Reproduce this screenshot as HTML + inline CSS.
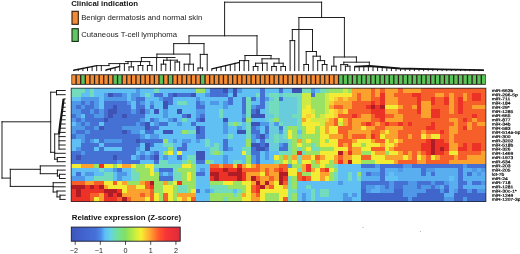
<!DOCTYPE html><html><head><meta charset="utf-8"><title>Heatmap</title><style>html,body{margin:0;padding:0;background:#fff}svg{display:block}text{font-family:"Liberation Sans",sans-serif}</style></head><body>
<svg width="520" height="254" viewBox="0 0 520 254">
<defs><linearGradient id="cb" x1="0" x2="1" y1="0" y2="0">
<stop offset="0" stop-color="#3f55b8"/>
<stop offset="0.1" stop-color="#4262cc"/>
<stop offset="0.22" stop-color="#4670d8"/>
<stop offset="0.27" stop-color="#4c8ae8"/>
<stop offset="0.31" stop-color="#5cc0fa"/>
<stop offset="0.36" stop-color="#66d4e0"/>
<stop offset="0.42" stop-color="#70e0a0"/>
<stop offset="0.5" stop-color="#84e060"/>
<stop offset="0.58" stop-color="#c4ee40"/>
<stop offset="0.64" stop-color="#f6f032"/>
<stop offset="0.72" stop-color="#ffa830"/>
<stop offset="0.8" stop-color="#ff5a2c"/>
<stop offset="0.87" stop-color="#f83436"/>
<stop offset="1" stop-color="#dc2c3c"/>
</linearGradient><filter id="bl" x="-2%" y="-2%" width="104%" height="104%"><feGaussianBlur stdDeviation="0.6"/></filter></defs>
<rect width="520" height="254" fill="#fff"/>
<text x="71.2" y="5.6" font-size="7.8" font-weight="bold" fill="#111">Clinical indication</text>
<rect x="72" y="11.3" width="6.3" height="13" fill="#f58a36" stroke="#2a1c10" stroke-width="1.1"/>
<text x="81.2" y="19.6" font-size="7.75" fill="#222">Benign dermatosis and normal skin</text>
<rect x="72" y="28.7" width="6.3" height="12.7" fill="#62c462" stroke="#142a14" stroke-width="1.1"/>
<text x="81.2" y="37.4" font-size="7.75" fill="#222">Cutaneous T-cell lymphoma</text>
<g>
<rect x="71.4" y="74.3" width="414.40" height="10.5" fill="#2a2018"/>
<rect x="72.15" y="75.2" width="3.30" height="8.7" fill="#f68d35"/>
<rect x="76.75" y="75.2" width="3.30" height="8.7" fill="#f68d35"/>
<rect x="81.36" y="75.2" width="3.30" height="8.7" fill="#58c45a"/>
<rect x="85.96" y="75.2" width="3.30" height="8.7" fill="#f68d35"/>
<rect x="90.57" y="75.2" width="3.30" height="8.7" fill="#f68d35"/>
<rect x="95.17" y="75.2" width="3.30" height="8.7" fill="#f68d35"/>
<rect x="99.78" y="75.2" width="3.30" height="8.7" fill="#f68d35"/>
<rect x="104.38" y="75.2" width="3.30" height="8.7" fill="#f68d35"/>
<rect x="108.99" y="75.2" width="3.30" height="8.7" fill="#f68d35"/>
<rect x="113.59" y="75.2" width="3.30" height="8.7" fill="#58c45a"/>
<rect x="118.19" y="75.2" width="3.30" height="8.7" fill="#58c45a"/>
<rect x="122.80" y="75.2" width="3.30" height="8.7" fill="#f68d35"/>
<rect x="127.40" y="75.2" width="3.30" height="8.7" fill="#f68d35"/>
<rect x="132.01" y="75.2" width="3.30" height="8.7" fill="#f68d35"/>
<rect x="136.61" y="75.2" width="3.30" height="8.7" fill="#f68d35"/>
<rect x="141.22" y="75.2" width="3.30" height="8.7" fill="#f68d35"/>
<rect x="145.82" y="75.2" width="3.30" height="8.7" fill="#f68d35"/>
<rect x="150.43" y="75.2" width="3.30" height="8.7" fill="#f68d35"/>
<rect x="155.03" y="75.2" width="3.30" height="8.7" fill="#f68d35"/>
<rect x="159.63" y="75.2" width="3.30" height="8.7" fill="#58c45a"/>
<rect x="164.24" y="75.2" width="3.30" height="8.7" fill="#f68d35"/>
<rect x="168.84" y="75.2" width="3.30" height="8.7" fill="#58c45a"/>
<rect x="173.45" y="75.2" width="3.30" height="8.7" fill="#f68d35"/>
<rect x="178.05" y="75.2" width="3.30" height="8.7" fill="#f68d35"/>
<rect x="182.66" y="75.2" width="3.30" height="8.7" fill="#f68d35"/>
<rect x="187.26" y="75.2" width="3.30" height="8.7" fill="#f68d35"/>
<rect x="191.87" y="75.2" width="3.30" height="8.7" fill="#f68d35"/>
<rect x="196.47" y="75.2" width="3.30" height="8.7" fill="#f68d35"/>
<rect x="201.07" y="75.2" width="3.30" height="8.7" fill="#58c45a"/>
<rect x="205.68" y="75.2" width="3.30" height="8.7" fill="#f68d35"/>
<rect x="210.28" y="75.2" width="3.30" height="8.7" fill="#f68d35"/>
<rect x="214.89" y="75.2" width="3.30" height="8.7" fill="#f68d35"/>
<rect x="219.49" y="75.2" width="3.30" height="8.7" fill="#f68d35"/>
<rect x="224.10" y="75.2" width="3.30" height="8.7" fill="#f68d35"/>
<rect x="228.70" y="75.2" width="3.30" height="8.7" fill="#f68d35"/>
<rect x="233.31" y="75.2" width="3.30" height="8.7" fill="#f68d35"/>
<rect x="237.91" y="75.2" width="3.30" height="8.7" fill="#f68d35"/>
<rect x="242.51" y="75.2" width="3.30" height="8.7" fill="#f68d35"/>
<rect x="247.12" y="75.2" width="3.30" height="8.7" fill="#f68d35"/>
<rect x="251.72" y="75.2" width="3.30" height="8.7" fill="#f68d35"/>
<rect x="256.33" y="75.2" width="3.30" height="8.7" fill="#f68d35"/>
<rect x="260.93" y="75.2" width="3.30" height="8.7" fill="#f68d35"/>
<rect x="265.54" y="75.2" width="3.30" height="8.7" fill="#f68d35"/>
<rect x="270.14" y="75.2" width="3.30" height="8.7" fill="#f68d35"/>
<rect x="274.75" y="75.2" width="3.30" height="8.7" fill="#f68d35"/>
<rect x="279.35" y="75.2" width="3.30" height="8.7" fill="#f68d35"/>
<rect x="283.95" y="75.2" width="3.30" height="8.7" fill="#f68d35"/>
<rect x="288.56" y="75.2" width="3.30" height="8.7" fill="#f68d35"/>
<rect x="293.16" y="75.2" width="3.30" height="8.7" fill="#f68d35"/>
<rect x="297.77" y="75.2" width="3.30" height="8.7" fill="#f68d35"/>
<rect x="302.37" y="75.2" width="3.30" height="8.7" fill="#f68d35"/>
<rect x="306.98" y="75.2" width="3.30" height="8.7" fill="#f68d35"/>
<rect x="311.58" y="75.2" width="3.30" height="8.7" fill="#f68d35"/>
<rect x="316.19" y="75.2" width="3.30" height="8.7" fill="#f68d35"/>
<rect x="320.79" y="75.2" width="3.30" height="8.7" fill="#f68d35"/>
<rect x="325.39" y="75.2" width="3.30" height="8.7" fill="#f68d35"/>
<rect x="330.00" y="75.2" width="3.30" height="8.7" fill="#f68d35"/>
<rect x="334.60" y="75.2" width="3.30" height="8.7" fill="#f68d35"/>
<rect x="339.21" y="75.2" width="3.30" height="8.7" fill="#58c45a"/>
<rect x="343.81" y="75.2" width="3.30" height="8.7" fill="#58c45a"/>
<rect x="348.42" y="75.2" width="3.30" height="8.7" fill="#58c45a"/>
<rect x="353.02" y="75.2" width="3.30" height="8.7" fill="#58c45a"/>
<rect x="357.63" y="75.2" width="3.30" height="8.7" fill="#58c45a"/>
<rect x="362.23" y="75.2" width="3.30" height="8.7" fill="#58c45a"/>
<rect x="366.83" y="75.2" width="3.30" height="8.7" fill="#58c45a"/>
<rect x="371.44" y="75.2" width="3.30" height="8.7" fill="#58c45a"/>
<rect x="376.04" y="75.2" width="3.30" height="8.7" fill="#58c45a"/>
<rect x="380.65" y="75.2" width="3.30" height="8.7" fill="#58c45a"/>
<rect x="385.25" y="75.2" width="3.30" height="8.7" fill="#58c45a"/>
<rect x="389.86" y="75.2" width="3.30" height="8.7" fill="#58c45a"/>
<rect x="394.46" y="75.2" width="3.30" height="8.7" fill="#58c45a"/>
<rect x="399.07" y="75.2" width="3.30" height="8.7" fill="#58c45a"/>
<rect x="403.67" y="75.2" width="3.30" height="8.7" fill="#58c45a"/>
<rect x="408.27" y="75.2" width="3.30" height="8.7" fill="#58c45a"/>
<rect x="412.88" y="75.2" width="3.30" height="8.7" fill="#58c45a"/>
<rect x="417.48" y="75.2" width="3.30" height="8.7" fill="#58c45a"/>
<rect x="422.09" y="75.2" width="3.30" height="8.7" fill="#58c45a"/>
<rect x="426.69" y="75.2" width="3.30" height="8.7" fill="#58c45a"/>
<rect x="431.30" y="75.2" width="3.30" height="8.7" fill="#58c45a"/>
<rect x="435.90" y="75.2" width="3.30" height="8.7" fill="#58c45a"/>
<rect x="440.51" y="75.2" width="3.30" height="8.7" fill="#58c45a"/>
<rect x="445.11" y="75.2" width="3.30" height="8.7" fill="#58c45a"/>
<rect x="449.71" y="75.2" width="3.30" height="8.7" fill="#58c45a"/>
<rect x="454.32" y="75.2" width="3.30" height="8.7" fill="#58c45a"/>
<rect x="458.92" y="75.2" width="3.30" height="8.7" fill="#58c45a"/>
<rect x="463.53" y="75.2" width="3.30" height="8.7" fill="#58c45a"/>
<rect x="468.13" y="75.2" width="3.30" height="8.7" fill="#58c45a"/>
<rect x="472.74" y="75.2" width="3.30" height="8.7" fill="#58c45a"/>
<rect x="477.34" y="75.2" width="3.30" height="8.7" fill="#58c45a"/>
<rect x="481.95" y="75.2" width="3.30" height="8.7" fill="#58c45a"/>
</g>
<g filter="url(#bl)">
<rect x="71" y="88" width="14" height="5" fill="#72dcbc"/>
<rect x="85" y="88" width="5" height="5" fill="#60c0f4"/>
<rect x="90" y="88" width="4" height="5" fill="#72dcbc"/>
<rect x="94" y="88" width="42" height="5" fill="#60c0f4"/>
<rect x="136" y="88" width="4" height="5" fill="#4f98e8"/>
<rect x="140" y="88" width="14" height="5" fill="#60c0f4"/>
<rect x="154" y="88" width="5" height="5" fill="#72dcbc"/>
<rect x="159" y="88" width="37" height="5" fill="#60c0f4"/>
<rect x="196" y="88" width="9" height="5" fill="#9ae264"/>
<rect x="205" y="88" width="5" height="5" fill="#60c0f4"/>
<rect x="210" y="88" width="13" height="5" fill="#4470d4"/>
<rect x="223" y="88" width="5" height="5" fill="#3d52b6"/>
<rect x="228" y="88" width="5" height="5" fill="#4f98e8"/>
<rect x="233" y="88" width="4" height="5" fill="#3d52b6"/>
<rect x="237" y="88" width="5" height="5" fill="#4f98e8"/>
<rect x="242" y="88" width="18" height="5" fill="#60c0f4"/>
<rect x="260" y="88" width="5" height="5" fill="#4470d4"/>
<rect x="265" y="88" width="14" height="5" fill="#60c0f4"/>
<rect x="279" y="88" width="4" height="5" fill="#4470d4"/>
<rect x="283" y="88" width="9" height="5" fill="#60c0f4"/>
<rect x="292" y="88" width="10" height="5" fill="#3d52b6"/>
<rect x="302" y="88" width="9" height="5" fill="#72dcbc"/>
<rect x="311" y="88" width="4" height="5" fill="#4f98e8"/>
<rect x="315" y="88" width="5" height="5" fill="#60c0f4"/>
<rect x="320" y="88" width="5" height="5" fill="#72dcbc"/>
<rect x="325" y="88" width="4" height="5" fill="#84de90"/>
<rect x="329" y="88" width="14" height="5" fill="#9ae264"/>
<rect x="343" y="88" width="5" height="5" fill="#cdea46"/>
<rect x="348" y="88" width="4" height="5" fill="#9ae264"/>
<rect x="352" y="88" width="19" height="5" fill="#fba22e"/>
<rect x="371" y="88" width="4" height="5" fill="#f75e2c"/>
<rect x="375" y="88" width="5" height="5" fill="#fba22e"/>
<rect x="380" y="88" width="5" height="5" fill="#f75e2c"/>
<rect x="385" y="88" width="13" height="5" fill="#fba22e"/>
<rect x="398" y="88" width="5" height="5" fill="#f75e2c"/>
<rect x="403" y="88" width="18" height="5" fill="#fba22e"/>
<rect x="421" y="88" width="65" height="5" fill="#f75e2c"/>
<rect x="71" y="93" width="10" height="4" fill="#72dcbc"/>
<rect x="81" y="93" width="9" height="4" fill="#60c0f4"/>
<rect x="90" y="93" width="4" height="4" fill="#72dcbc"/>
<rect x="94" y="93" width="10" height="4" fill="#60c0f4"/>
<rect x="104" y="93" width="4" height="4" fill="#4f98e8"/>
<rect x="108" y="93" width="5" height="4" fill="#3d52b6"/>
<rect x="113" y="93" width="9" height="4" fill="#4470d4"/>
<rect x="122" y="93" width="5" height="4" fill="#4f98e8"/>
<rect x="127" y="93" width="4" height="4" fill="#60c0f4"/>
<rect x="131" y="93" width="9" height="4" fill="#4f98e8"/>
<rect x="140" y="93" width="5" height="4" fill="#60c0f4"/>
<rect x="145" y="93" width="5" height="4" fill="#72dcbc"/>
<rect x="150" y="93" width="4" height="4" fill="#60c0f4"/>
<rect x="154" y="93" width="9" height="4" fill="#4470d4"/>
<rect x="163" y="93" width="5" height="4" fill="#60c0f4"/>
<rect x="168" y="93" width="5" height="4" fill="#4470d4"/>
<rect x="173" y="93" width="4" height="4" fill="#3d52b6"/>
<rect x="177" y="93" width="14" height="4" fill="#4470d4"/>
<rect x="191" y="93" width="5" height="4" fill="#3d52b6"/>
<rect x="196" y="93" width="9" height="4" fill="#60c0f4"/>
<rect x="205" y="93" width="5" height="4" fill="#4f98e8"/>
<rect x="210" y="93" width="18" height="4" fill="#4470d4"/>
<rect x="228" y="93" width="5" height="4" fill="#60c0f4"/>
<rect x="233" y="93" width="4" height="4" fill="#3d52b6"/>
<rect x="237" y="93" width="19" height="4" fill="#60c0f4"/>
<rect x="256" y="93" width="4" height="4" fill="#72dcbc"/>
<rect x="260" y="93" width="5" height="4" fill="#4470d4"/>
<rect x="265" y="93" width="4" height="4" fill="#68ccdc"/>
<rect x="269" y="93" width="10" height="4" fill="#72dcbc"/>
<rect x="279" y="93" width="4" height="4" fill="#68ccdc"/>
<rect x="283" y="93" width="19" height="4" fill="#72dcbc"/>
<rect x="302" y="93" width="9" height="4" fill="#cdea46"/>
<rect x="311" y="93" width="4" height="4" fill="#4470d4"/>
<rect x="315" y="93" width="10" height="4" fill="#9ae264"/>
<rect x="325" y="93" width="4" height="4" fill="#cdea46"/>
<rect x="329" y="93" width="23" height="4" fill="#f2ec36"/>
<rect x="352" y="93" width="5" height="4" fill="#fba22e"/>
<rect x="357" y="93" width="4" height="4" fill="#f75e2c"/>
<rect x="361" y="93" width="10" height="4" fill="#fba22e"/>
<rect x="371" y="93" width="4" height="4" fill="#f75e2c"/>
<rect x="375" y="93" width="5" height="4" fill="#fba22e"/>
<rect x="380" y="93" width="5" height="4" fill="#ec3328"/>
<rect x="385" y="93" width="9" height="4" fill="#fba22e"/>
<rect x="394" y="93" width="18" height="4" fill="#f75e2c"/>
<rect x="412" y="93" width="9" height="4" fill="#ec3328"/>
<rect x="421" y="93" width="14" height="4" fill="#f75e2c"/>
<rect x="435" y="93" width="9" height="4" fill="#fba22e"/>
<rect x="444" y="93" width="5" height="4" fill="#f75e2c"/>
<rect x="449" y="93" width="5" height="4" fill="#fba22e"/>
<rect x="454" y="93" width="9" height="4" fill="#f75e2c"/>
<rect x="463" y="93" width="4" height="4" fill="#fba22e"/>
<rect x="467" y="93" width="5" height="4" fill="#f75e2c"/>
<rect x="472" y="93" width="9" height="4" fill="#ec3328"/>
<rect x="481" y="93" width="5" height="4" fill="#f75e2c"/>
<rect x="71" y="97" width="10" height="4" fill="#60c0f4"/>
<rect x="81" y="97" width="18" height="4" fill="#4f98e8"/>
<rect x="99" y="97" width="5" height="4" fill="#60c0f4"/>
<rect x="104" y="97" width="23" height="4" fill="#4f98e8"/>
<rect x="127" y="97" width="4" height="4" fill="#60c0f4"/>
<rect x="131" y="97" width="5" height="4" fill="#4f98e8"/>
<rect x="136" y="97" width="9" height="4" fill="#4470d4"/>
<rect x="145" y="97" width="14" height="4" fill="#60c0f4"/>
<rect x="159" y="97" width="4" height="4" fill="#4f98e8"/>
<rect x="163" y="97" width="10" height="4" fill="#4470d4"/>
<rect x="173" y="97" width="23" height="4" fill="#60c0f4"/>
<rect x="196" y="97" width="4" height="4" fill="#4f98e8"/>
<rect x="200" y="97" width="28" height="4" fill="#60c0f4"/>
<rect x="228" y="97" width="5" height="4" fill="#4470d4"/>
<rect x="233" y="97" width="9" height="4" fill="#60c0f4"/>
<rect x="242" y="97" width="4" height="4" fill="#4470d4"/>
<rect x="246" y="97" width="5" height="4" fill="#72dcbc"/>
<rect x="251" y="97" width="5" height="4" fill="#4470d4"/>
<rect x="256" y="97" width="4" height="4" fill="#60c0f4"/>
<rect x="260" y="97" width="5" height="4" fill="#4470d4"/>
<rect x="265" y="97" width="4" height="4" fill="#4f98e8"/>
<rect x="269" y="97" width="5" height="4" fill="#68ccdc"/>
<rect x="274" y="97" width="5" height="4" fill="#72dcbc"/>
<rect x="279" y="97" width="4" height="4" fill="#4470d4"/>
<rect x="283" y="97" width="14" height="4" fill="#68ccdc"/>
<rect x="297" y="97" width="5" height="4" fill="#72dcbc"/>
<rect x="302" y="97" width="9" height="4" fill="#cdea46"/>
<rect x="311" y="97" width="14" height="4" fill="#9ae264"/>
<rect x="325" y="97" width="4" height="4" fill="#cdea46"/>
<rect x="329" y="97" width="5" height="4" fill="#f2ec36"/>
<rect x="334" y="97" width="4" height="4" fill="#f8d034"/>
<rect x="338" y="97" width="5" height="4" fill="#fba22e"/>
<rect x="343" y="97" width="5" height="4" fill="#f8d034"/>
<rect x="348" y="97" width="9" height="4" fill="#fba22e"/>
<rect x="357" y="97" width="4" height="4" fill="#f75e2c"/>
<rect x="361" y="97" width="10" height="4" fill="#fba22e"/>
<rect x="371" y="97" width="9" height="4" fill="#f75e2c"/>
<rect x="380" y="97" width="5" height="4" fill="#ec3328"/>
<rect x="385" y="97" width="13" height="4" fill="#fba22e"/>
<rect x="398" y="97" width="19" height="4" fill="#f75e2c"/>
<rect x="417" y="97" width="4" height="4" fill="#ec3328"/>
<rect x="421" y="97" width="10" height="4" fill="#f75e2c"/>
<rect x="431" y="97" width="4" height="4" fill="#ec3328"/>
<rect x="435" y="97" width="9" height="4" fill="#f75e2c"/>
<rect x="444" y="97" width="5" height="4" fill="#ec3328"/>
<rect x="449" y="97" width="5" height="4" fill="#fba22e"/>
<rect x="454" y="97" width="4" height="4" fill="#f75e2c"/>
<rect x="458" y="97" width="5" height="4" fill="#ec3328"/>
<rect x="463" y="97" width="4" height="4" fill="#fba22e"/>
<rect x="467" y="97" width="5" height="4" fill="#f75e2c"/>
<rect x="472" y="97" width="9" height="4" fill="#ec3328"/>
<rect x="481" y="97" width="5" height="4" fill="#f75e2c"/>
<rect x="71" y="101" width="10" height="4" fill="#4f98e8"/>
<rect x="81" y="101" width="4" height="4" fill="#4470d4"/>
<rect x="85" y="101" width="5" height="4" fill="#4f98e8"/>
<rect x="90" y="101" width="4" height="4" fill="#4470d4"/>
<rect x="94" y="101" width="5" height="4" fill="#4f98e8"/>
<rect x="99" y="101" width="5" height="4" fill="#60c0f4"/>
<rect x="104" y="101" width="23" height="4" fill="#4470d4"/>
<rect x="127" y="101" width="4" height="4" fill="#4f98e8"/>
<rect x="131" y="101" width="5" height="4" fill="#60c0f4"/>
<rect x="136" y="101" width="4" height="4" fill="#4470d4"/>
<rect x="140" y="101" width="5" height="4" fill="#4f98e8"/>
<rect x="145" y="101" width="5" height="4" fill="#60c0f4"/>
<rect x="150" y="101" width="4" height="4" fill="#4f98e8"/>
<rect x="154" y="101" width="9" height="4" fill="#60c0f4"/>
<rect x="163" y="101" width="5" height="4" fill="#3d52b6"/>
<rect x="168" y="101" width="5" height="4" fill="#4470d4"/>
<rect x="173" y="101" width="4" height="4" fill="#60c0f4"/>
<rect x="177" y="101" width="10" height="4" fill="#72dcbc"/>
<rect x="187" y="101" width="9" height="4" fill="#60c0f4"/>
<rect x="196" y="101" width="4" height="4" fill="#4470d4"/>
<rect x="200" y="101" width="5" height="4" fill="#4f98e8"/>
<rect x="205" y="101" width="5" height="4" fill="#60c0f4"/>
<rect x="210" y="101" width="9" height="4" fill="#4f98e8"/>
<rect x="219" y="101" width="4" height="4" fill="#60c0f4"/>
<rect x="223" y="101" width="5" height="4" fill="#4f98e8"/>
<rect x="228" y="101" width="5" height="4" fill="#4470d4"/>
<rect x="233" y="101" width="9" height="4" fill="#60c0f4"/>
<rect x="242" y="101" width="4" height="4" fill="#4470d4"/>
<rect x="246" y="101" width="5" height="4" fill="#72dcbc"/>
<rect x="251" y="101" width="9" height="4" fill="#60c0f4"/>
<rect x="260" y="101" width="5" height="4" fill="#4470d4"/>
<rect x="265" y="101" width="4" height="4" fill="#68ccdc"/>
<rect x="269" y="101" width="10" height="4" fill="#72dcbc"/>
<rect x="279" y="101" width="18" height="4" fill="#68ccdc"/>
<rect x="297" y="101" width="5" height="4" fill="#72dcbc"/>
<rect x="302" y="101" width="9" height="4" fill="#cdea46"/>
<rect x="311" y="101" width="14" height="4" fill="#9ae264"/>
<rect x="325" y="101" width="4" height="4" fill="#cdea46"/>
<rect x="329" y="101" width="5" height="4" fill="#f8d034"/>
<rect x="334" y="101" width="18" height="4" fill="#fba22e"/>
<rect x="352" y="101" width="19" height="4" fill="#f75e2c"/>
<rect x="371" y="101" width="4" height="4" fill="#ec3328"/>
<rect x="375" y="101" width="5" height="4" fill="#f75e2c"/>
<rect x="380" y="101" width="5" height="4" fill="#ec3328"/>
<rect x="385" y="101" width="13" height="4" fill="#fba22e"/>
<rect x="398" y="101" width="19" height="4" fill="#f75e2c"/>
<rect x="417" y="101" width="4" height="4" fill="#ec3328"/>
<rect x="421" y="101" width="10" height="4" fill="#fba22e"/>
<rect x="431" y="101" width="4" height="4" fill="#ec3328"/>
<rect x="435" y="101" width="9" height="4" fill="#f75e2c"/>
<rect x="444" y="101" width="5" height="4" fill="#ec3328"/>
<rect x="449" y="101" width="5" height="4" fill="#fba22e"/>
<rect x="454" y="101" width="4" height="4" fill="#f75e2c"/>
<rect x="458" y="101" width="5" height="4" fill="#ec3328"/>
<rect x="463" y="101" width="23" height="4" fill="#f75e2c"/>
<rect x="71" y="105" width="5" height="4" fill="#4f98e8"/>
<rect x="76" y="105" width="5" height="4" fill="#4470d4"/>
<rect x="81" y="105" width="4" height="4" fill="#4f98e8"/>
<rect x="85" y="105" width="9" height="4" fill="#4470d4"/>
<rect x="94" y="105" width="5" height="4" fill="#4f98e8"/>
<rect x="99" y="105" width="5" height="4" fill="#60c0f4"/>
<rect x="104" y="105" width="9" height="4" fill="#4470d4"/>
<rect x="113" y="105" width="4" height="4" fill="#3d52b6"/>
<rect x="117" y="105" width="14" height="4" fill="#4470d4"/>
<rect x="131" y="105" width="5" height="4" fill="#60c0f4"/>
<rect x="136" y="105" width="9" height="4" fill="#4470d4"/>
<rect x="145" y="105" width="5" height="4" fill="#60c0f4"/>
<rect x="150" y="105" width="4" height="4" fill="#4470d4"/>
<rect x="154" y="105" width="9" height="4" fill="#60c0f4"/>
<rect x="163" y="105" width="5" height="4" fill="#3d52b6"/>
<rect x="168" y="105" width="28" height="4" fill="#60c0f4"/>
<rect x="196" y="105" width="9" height="4" fill="#4470d4"/>
<rect x="205" y="105" width="18" height="4" fill="#60c0f4"/>
<rect x="223" y="105" width="5" height="4" fill="#4f98e8"/>
<rect x="228" y="105" width="14" height="4" fill="#60c0f4"/>
<rect x="242" y="105" width="4" height="4" fill="#4470d4"/>
<rect x="246" y="105" width="5" height="4" fill="#72dcbc"/>
<rect x="251" y="105" width="5" height="4" fill="#4f98e8"/>
<rect x="256" y="105" width="9" height="4" fill="#4470d4"/>
<rect x="265" y="105" width="4" height="4" fill="#68ccdc"/>
<rect x="269" y="105" width="10" height="4" fill="#72dcbc"/>
<rect x="279" y="105" width="18" height="4" fill="#68ccdc"/>
<rect x="297" y="105" width="5" height="4" fill="#72dcbc"/>
<rect x="302" y="105" width="4" height="4" fill="#cdea46"/>
<rect x="306" y="105" width="5" height="4" fill="#f2ec36"/>
<rect x="311" y="105" width="14" height="4" fill="#9ae264"/>
<rect x="325" y="105" width="4" height="4" fill="#cdea46"/>
<rect x="329" y="105" width="5" height="4" fill="#fba22e"/>
<rect x="334" y="105" width="9" height="4" fill="#f75e2c"/>
<rect x="343" y="105" width="9" height="4" fill="#fba22e"/>
<rect x="352" y="105" width="14" height="4" fill="#f75e2c"/>
<rect x="366" y="105" width="5" height="4" fill="#ec3328"/>
<rect x="371" y="105" width="4" height="4" fill="#b01c28"/>
<rect x="375" y="105" width="5" height="4" fill="#ec3328"/>
<rect x="380" y="105" width="5" height="4" fill="#b01c28"/>
<rect x="385" y="105" width="13" height="4" fill="#f2ec36"/>
<rect x="398" y="105" width="5" height="4" fill="#fba22e"/>
<rect x="403" y="105" width="9" height="4" fill="#f75e2c"/>
<rect x="412" y="105" width="5" height="4" fill="#fba22e"/>
<rect x="417" y="105" width="4" height="4" fill="#ec3328"/>
<rect x="421" y="105" width="10" height="4" fill="#fba22e"/>
<rect x="431" y="105" width="18" height="4" fill="#f75e2c"/>
<rect x="449" y="105" width="5" height="4" fill="#fba22e"/>
<rect x="454" y="105" width="4" height="4" fill="#f75e2c"/>
<rect x="458" y="105" width="5" height="4" fill="#ec3328"/>
<rect x="463" y="105" width="9" height="4" fill="#f75e2c"/>
<rect x="472" y="105" width="14" height="4" fill="#fba22e"/>
<rect x="71" y="109" width="10" height="5" fill="#4f98e8"/>
<rect x="81" y="109" width="9" height="5" fill="#4470d4"/>
<rect x="90" y="109" width="4" height="5" fill="#4f98e8"/>
<rect x="94" y="109" width="5" height="5" fill="#4470d4"/>
<rect x="99" y="109" width="5" height="5" fill="#4f98e8"/>
<rect x="104" y="109" width="4" height="5" fill="#4470d4"/>
<rect x="108" y="109" width="9" height="5" fill="#3d52b6"/>
<rect x="117" y="109" width="14" height="5" fill="#4470d4"/>
<rect x="131" y="109" width="5" height="5" fill="#4f98e8"/>
<rect x="136" y="109" width="4" height="5" fill="#4470d4"/>
<rect x="140" y="109" width="5" height="5" fill="#3d52b6"/>
<rect x="145" y="109" width="5" height="5" fill="#4f98e8"/>
<rect x="150" y="109" width="4" height="5" fill="#60c0f4"/>
<rect x="154" y="109" width="5" height="5" fill="#3d52b6"/>
<rect x="159" y="109" width="4" height="5" fill="#60c0f4"/>
<rect x="163" y="109" width="5" height="5" fill="#4f98e8"/>
<rect x="168" y="109" width="9" height="5" fill="#60c0f4"/>
<rect x="177" y="109" width="5" height="5" fill="#3d52b6"/>
<rect x="182" y="109" width="14" height="5" fill="#60c0f4"/>
<rect x="196" y="109" width="9" height="5" fill="#4f98e8"/>
<rect x="205" y="109" width="14" height="5" fill="#60c0f4"/>
<rect x="219" y="109" width="4" height="5" fill="#72dcbc"/>
<rect x="223" y="109" width="19" height="5" fill="#60c0f4"/>
<rect x="242" y="109" width="4" height="5" fill="#4470d4"/>
<rect x="246" y="109" width="5" height="5" fill="#72dcbc"/>
<rect x="251" y="109" width="5" height="5" fill="#4470d4"/>
<rect x="256" y="109" width="4" height="5" fill="#3d52b6"/>
<rect x="260" y="109" width="5" height="5" fill="#60c0f4"/>
<rect x="265" y="109" width="4" height="5" fill="#68ccdc"/>
<rect x="269" y="109" width="10" height="5" fill="#72dcbc"/>
<rect x="279" y="109" width="18" height="5" fill="#68ccdc"/>
<rect x="297" y="109" width="5" height="5" fill="#72dcbc"/>
<rect x="302" y="109" width="9" height="5" fill="#f2ec36"/>
<rect x="311" y="109" width="4" height="5" fill="#cdea46"/>
<rect x="315" y="109" width="10" height="5" fill="#9ae264"/>
<rect x="325" y="109" width="4" height="5" fill="#cdea46"/>
<rect x="329" y="109" width="5" height="5" fill="#f2ec36"/>
<rect x="334" y="109" width="4" height="5" fill="#f8d034"/>
<rect x="338" y="109" width="5" height="5" fill="#fba22e"/>
<rect x="343" y="109" width="5" height="5" fill="#f8d034"/>
<rect x="348" y="109" width="23" height="5" fill="#f75e2c"/>
<rect x="371" y="109" width="14" height="5" fill="#ec3328"/>
<rect x="385" y="109" width="13" height="5" fill="#fba22e"/>
<rect x="398" y="109" width="19" height="5" fill="#f75e2c"/>
<rect x="417" y="109" width="4" height="5" fill="#ec3328"/>
<rect x="421" y="109" width="10" height="5" fill="#fba22e"/>
<rect x="431" y="109" width="9" height="5" fill="#ec3328"/>
<rect x="440" y="109" width="9" height="5" fill="#f75e2c"/>
<rect x="449" y="109" width="5" height="5" fill="#fba22e"/>
<rect x="454" y="109" width="4" height="5" fill="#f75e2c"/>
<rect x="458" y="109" width="5" height="5" fill="#ec3328"/>
<rect x="463" y="109" width="23" height="5" fill="#f75e2c"/>
<rect x="71" y="114" width="5" height="4" fill="#4470d4"/>
<rect x="76" y="114" width="5" height="4" fill="#4f98e8"/>
<rect x="81" y="114" width="4" height="4" fill="#60c0f4"/>
<rect x="85" y="114" width="9" height="4" fill="#4470d4"/>
<rect x="94" y="114" width="10" height="4" fill="#4f98e8"/>
<rect x="104" y="114" width="4" height="4" fill="#4470d4"/>
<rect x="108" y="114" width="5" height="4" fill="#3d52b6"/>
<rect x="113" y="114" width="9" height="4" fill="#4470d4"/>
<rect x="122" y="114" width="5" height="4" fill="#3d52b6"/>
<rect x="127" y="114" width="18" height="4" fill="#4470d4"/>
<rect x="145" y="114" width="18" height="4" fill="#60c0f4"/>
<rect x="163" y="114" width="5" height="4" fill="#4f98e8"/>
<rect x="168" y="114" width="14" height="4" fill="#60c0f4"/>
<rect x="182" y="114" width="5" height="4" fill="#4470d4"/>
<rect x="187" y="114" width="4" height="4" fill="#3d52b6"/>
<rect x="191" y="114" width="5" height="4" fill="#60c0f4"/>
<rect x="196" y="114" width="4" height="4" fill="#4f98e8"/>
<rect x="200" y="114" width="5" height="4" fill="#4470d4"/>
<rect x="205" y="114" width="14" height="4" fill="#60c0f4"/>
<rect x="219" y="114" width="4" height="4" fill="#72dcbc"/>
<rect x="223" y="114" width="19" height="4" fill="#60c0f4"/>
<rect x="242" y="114" width="4" height="4" fill="#4f98e8"/>
<rect x="246" y="114" width="5" height="4" fill="#72dcbc"/>
<rect x="251" y="114" width="14" height="4" fill="#3d52b6"/>
<rect x="265" y="114" width="9" height="4" fill="#68ccdc"/>
<rect x="274" y="114" width="5" height="4" fill="#72dcbc"/>
<rect x="279" y="114" width="13" height="4" fill="#68ccdc"/>
<rect x="292" y="114" width="10" height="4" fill="#72dcbc"/>
<rect x="302" y="114" width="4" height="4" fill="#f2ec36"/>
<rect x="306" y="114" width="5" height="4" fill="#f8d034"/>
<rect x="311" y="114" width="4" height="4" fill="#f2ec36"/>
<rect x="315" y="114" width="5" height="4" fill="#9ae264"/>
<rect x="320" y="114" width="5" height="4" fill="#cdea46"/>
<rect x="325" y="114" width="9" height="4" fill="#f2ec36"/>
<rect x="334" y="114" width="4" height="4" fill="#f8d034"/>
<rect x="338" y="114" width="14" height="4" fill="#f75e2c"/>
<rect x="352" y="114" width="5" height="4" fill="#ec3328"/>
<rect x="357" y="114" width="4" height="4" fill="#f75e2c"/>
<rect x="361" y="114" width="10" height="4" fill="#fba22e"/>
<rect x="371" y="114" width="4" height="4" fill="#f75e2c"/>
<rect x="375" y="114" width="10" height="4" fill="#ec3328"/>
<rect x="385" y="114" width="9" height="4" fill="#f75e2c"/>
<rect x="394" y="114" width="9" height="4" fill="#fba22e"/>
<rect x="403" y="114" width="18" height="4" fill="#f75e2c"/>
<rect x="421" y="114" width="10" height="4" fill="#fba22e"/>
<rect x="431" y="114" width="9" height="4" fill="#ec3328"/>
<rect x="440" y="114" width="32" height="4" fill="#f75e2c"/>
<rect x="472" y="114" width="5" height="4" fill="#ec3328"/>
<rect x="477" y="114" width="9" height="4" fill="#f75e2c"/>
<rect x="71" y="118" width="5" height="4" fill="#4f98e8"/>
<rect x="76" y="118" width="5" height="4" fill="#4470d4"/>
<rect x="81" y="118" width="4" height="4" fill="#4f98e8"/>
<rect x="85" y="118" width="19" height="4" fill="#4470d4"/>
<rect x="104" y="118" width="4" height="4" fill="#3d52b6"/>
<rect x="108" y="118" width="32" height="4" fill="#4470d4"/>
<rect x="140" y="118" width="5" height="4" fill="#4f98e8"/>
<rect x="145" y="118" width="5" height="4" fill="#60c0f4"/>
<rect x="150" y="118" width="4" height="4" fill="#4470d4"/>
<rect x="154" y="118" width="5" height="4" fill="#4f98e8"/>
<rect x="159" y="118" width="9" height="4" fill="#60c0f4"/>
<rect x="168" y="118" width="5" height="4" fill="#4f98e8"/>
<rect x="173" y="118" width="4" height="4" fill="#4470d4"/>
<rect x="177" y="118" width="5" height="4" fill="#60c0f4"/>
<rect x="182" y="118" width="5" height="4" fill="#72dcbc"/>
<rect x="187" y="118" width="9" height="4" fill="#60c0f4"/>
<rect x="196" y="118" width="4" height="4" fill="#4470d4"/>
<rect x="200" y="118" width="5" height="4" fill="#3d52b6"/>
<rect x="205" y="118" width="18" height="4" fill="#60c0f4"/>
<rect x="223" y="118" width="5" height="4" fill="#3d52b6"/>
<rect x="228" y="118" width="14" height="4" fill="#60c0f4"/>
<rect x="242" y="118" width="4" height="4" fill="#4470d4"/>
<rect x="246" y="118" width="5" height="4" fill="#9ae264"/>
<rect x="251" y="118" width="14" height="4" fill="#60c0f4"/>
<rect x="265" y="118" width="4" height="4" fill="#68ccdc"/>
<rect x="269" y="118" width="5" height="4" fill="#72dcbc"/>
<rect x="274" y="118" width="5" height="4" fill="#9ae264"/>
<rect x="279" y="118" width="18" height="4" fill="#68ccdc"/>
<rect x="297" y="118" width="5" height="4" fill="#72dcbc"/>
<rect x="302" y="118" width="4" height="4" fill="#fba22e"/>
<rect x="306" y="118" width="5" height="4" fill="#f2ec36"/>
<rect x="311" y="118" width="14" height="4" fill="#cdea46"/>
<rect x="325" y="118" width="4" height="4" fill="#f8d034"/>
<rect x="329" y="118" width="5" height="4" fill="#fba22e"/>
<rect x="334" y="118" width="4" height="4" fill="#f75e2c"/>
<rect x="338" y="118" width="5" height="4" fill="#f2ec36"/>
<rect x="343" y="118" width="5" height="4" fill="#fba22e"/>
<rect x="348" y="118" width="4" height="4" fill="#f75e2c"/>
<rect x="352" y="118" width="19" height="4" fill="#fba22e"/>
<rect x="371" y="118" width="9" height="4" fill="#f75e2c"/>
<rect x="380" y="118" width="5" height="4" fill="#ec3328"/>
<rect x="385" y="118" width="18" height="4" fill="#fba22e"/>
<rect x="403" y="118" width="46" height="4" fill="#f75e2c"/>
<rect x="449" y="118" width="9" height="4" fill="#fba22e"/>
<rect x="458" y="118" width="5" height="4" fill="#f75e2c"/>
<rect x="463" y="118" width="4" height="4" fill="#ec3328"/>
<rect x="467" y="118" width="5" height="4" fill="#f75e2c"/>
<rect x="472" y="118" width="5" height="4" fill="#fba22e"/>
<rect x="477" y="118" width="9" height="4" fill="#f75e2c"/>
<rect x="71" y="122" width="5" height="4" fill="#60c0f4"/>
<rect x="76" y="122" width="5" height="4" fill="#4f98e8"/>
<rect x="81" y="122" width="4" height="4" fill="#4470d4"/>
<rect x="85" y="122" width="5" height="4" fill="#4f98e8"/>
<rect x="90" y="122" width="9" height="4" fill="#4470d4"/>
<rect x="99" y="122" width="5" height="4" fill="#60c0f4"/>
<rect x="104" y="122" width="32" height="4" fill="#4470d4"/>
<rect x="136" y="122" width="4" height="4" fill="#4f98e8"/>
<rect x="140" y="122" width="5" height="4" fill="#4470d4"/>
<rect x="145" y="122" width="5" height="4" fill="#3d52b6"/>
<rect x="150" y="122" width="4" height="4" fill="#60c0f4"/>
<rect x="154" y="122" width="5" height="4" fill="#4f98e8"/>
<rect x="159" y="122" width="9" height="4" fill="#4470d4"/>
<rect x="168" y="122" width="9" height="4" fill="#60c0f4"/>
<rect x="177" y="122" width="5" height="4" fill="#4f98e8"/>
<rect x="182" y="122" width="9" height="4" fill="#60c0f4"/>
<rect x="191" y="122" width="5" height="4" fill="#4470d4"/>
<rect x="196" y="122" width="27" height="4" fill="#60c0f4"/>
<rect x="223" y="122" width="5" height="4" fill="#4f98e8"/>
<rect x="228" y="122" width="5" height="4" fill="#72dcbc"/>
<rect x="233" y="122" width="4" height="4" fill="#9ae264"/>
<rect x="237" y="122" width="5" height="4" fill="#72dcbc"/>
<rect x="242" y="122" width="4" height="4" fill="#60c0f4"/>
<rect x="246" y="122" width="5" height="4" fill="#72dcbc"/>
<rect x="251" y="122" width="9" height="4" fill="#3d52b6"/>
<rect x="260" y="122" width="9" height="4" fill="#4f98e8"/>
<rect x="269" y="122" width="5" height="4" fill="#68ccdc"/>
<rect x="274" y="122" width="5" height="4" fill="#4f98e8"/>
<rect x="279" y="122" width="4" height="4" fill="#72dcbc"/>
<rect x="283" y="122" width="14" height="4" fill="#68ccdc"/>
<rect x="297" y="122" width="5" height="4" fill="#72dcbc"/>
<rect x="302" y="122" width="18" height="4" fill="#f2ec36"/>
<rect x="320" y="122" width="5" height="4" fill="#cdea46"/>
<rect x="325" y="122" width="9" height="4" fill="#fba22e"/>
<rect x="334" y="122" width="4" height="4" fill="#f75e2c"/>
<rect x="338" y="122" width="5" height="4" fill="#cdea46"/>
<rect x="343" y="122" width="5" height="4" fill="#fba22e"/>
<rect x="348" y="122" width="4" height="4" fill="#f75e2c"/>
<rect x="352" y="122" width="9" height="4" fill="#fba22e"/>
<rect x="361" y="122" width="5" height="4" fill="#f75e2c"/>
<rect x="366" y="122" width="5" height="4" fill="#ec3328"/>
<rect x="371" y="122" width="4" height="4" fill="#f75e2c"/>
<rect x="375" y="122" width="5" height="4" fill="#fba22e"/>
<rect x="380" y="122" width="5" height="4" fill="#f75e2c"/>
<rect x="385" y="122" width="4" height="4" fill="#ec3328"/>
<rect x="389" y="122" width="9" height="4" fill="#f75e2c"/>
<rect x="398" y="122" width="5" height="4" fill="#ec3328"/>
<rect x="403" y="122" width="5" height="4" fill="#f75e2c"/>
<rect x="408" y="122" width="4" height="4" fill="#ec3328"/>
<rect x="412" y="122" width="19" height="4" fill="#f75e2c"/>
<rect x="431" y="122" width="4" height="4" fill="#ec3328"/>
<rect x="435" y="122" width="19" height="4" fill="#f75e2c"/>
<rect x="454" y="122" width="4" height="4" fill="#fba22e"/>
<rect x="458" y="122" width="9" height="4" fill="#f75e2c"/>
<rect x="467" y="122" width="5" height="4" fill="#fba22e"/>
<rect x="472" y="122" width="5" height="4" fill="#f75e2c"/>
<rect x="477" y="122" width="9" height="4" fill="#fba22e"/>
<rect x="71" y="126" width="14" height="4" fill="#4f98e8"/>
<rect x="85" y="126" width="9" height="4" fill="#4470d4"/>
<rect x="94" y="126" width="5" height="4" fill="#4f98e8"/>
<rect x="99" y="126" width="5" height="4" fill="#3d52b6"/>
<rect x="104" y="126" width="18" height="4" fill="#4470d4"/>
<rect x="122" y="126" width="23" height="4" fill="#4f98e8"/>
<rect x="145" y="126" width="5" height="4" fill="#3d52b6"/>
<rect x="150" y="126" width="9" height="4" fill="#4470d4"/>
<rect x="159" y="126" width="37" height="4" fill="#60c0f4"/>
<rect x="196" y="126" width="4" height="4" fill="#3d52b6"/>
<rect x="200" y="126" width="5" height="4" fill="#4470d4"/>
<rect x="205" y="126" width="18" height="4" fill="#60c0f4"/>
<rect x="223" y="126" width="5" height="4" fill="#4f98e8"/>
<rect x="228" y="126" width="9" height="4" fill="#60c0f4"/>
<rect x="237" y="126" width="5" height="4" fill="#4f98e8"/>
<rect x="242" y="126" width="4" height="4" fill="#60c0f4"/>
<rect x="246" y="126" width="5" height="4" fill="#72dcbc"/>
<rect x="251" y="126" width="5" height="4" fill="#4470d4"/>
<rect x="256" y="126" width="4" height="4" fill="#4f98e8"/>
<rect x="260" y="126" width="5" height="4" fill="#60c0f4"/>
<rect x="265" y="126" width="4" height="4" fill="#4470d4"/>
<rect x="269" y="126" width="10" height="4" fill="#68ccdc"/>
<rect x="279" y="126" width="4" height="4" fill="#4470d4"/>
<rect x="283" y="126" width="5" height="4" fill="#72dcbc"/>
<rect x="288" y="126" width="9" height="4" fill="#9ae264"/>
<rect x="297" y="126" width="5" height="4" fill="#72dcbc"/>
<rect x="302" y="126" width="4" height="4" fill="#9ae264"/>
<rect x="306" y="126" width="9" height="4" fill="#f2ec36"/>
<rect x="315" y="126" width="5" height="4" fill="#9ae264"/>
<rect x="320" y="126" width="5" height="4" fill="#f2ec36"/>
<rect x="325" y="126" width="4" height="4" fill="#fba22e"/>
<rect x="329" y="126" width="9" height="4" fill="#f2ec36"/>
<rect x="338" y="126" width="14" height="4" fill="#f75e2c"/>
<rect x="352" y="126" width="9" height="4" fill="#fba22e"/>
<rect x="361" y="126" width="5" height="4" fill="#f2ec36"/>
<rect x="366" y="126" width="9" height="4" fill="#fba22e"/>
<rect x="375" y="126" width="10" height="4" fill="#f75e2c"/>
<rect x="385" y="126" width="18" height="4" fill="#fba22e"/>
<rect x="403" y="126" width="23" height="4" fill="#f75e2c"/>
<rect x="426" y="126" width="9" height="4" fill="#ec3328"/>
<rect x="435" y="126" width="14" height="4" fill="#f75e2c"/>
<rect x="449" y="126" width="9" height="4" fill="#fba22e"/>
<rect x="458" y="126" width="5" height="4" fill="#f75e2c"/>
<rect x="463" y="126" width="4" height="4" fill="#ec3328"/>
<rect x="467" y="126" width="5" height="4" fill="#fba22e"/>
<rect x="472" y="126" width="14" height="4" fill="#f75e2c"/>
<rect x="71" y="130" width="5" height="4" fill="#4f98e8"/>
<rect x="76" y="130" width="9" height="4" fill="#4470d4"/>
<rect x="85" y="130" width="5" height="4" fill="#4f98e8"/>
<rect x="90" y="130" width="32" height="4" fill="#4470d4"/>
<rect x="122" y="130" width="5" height="4" fill="#3d52b6"/>
<rect x="127" y="130" width="4" height="4" fill="#4470d4"/>
<rect x="131" y="130" width="9" height="4" fill="#4f98e8"/>
<rect x="140" y="130" width="5" height="4" fill="#60c0f4"/>
<rect x="145" y="130" width="9" height="4" fill="#4470d4"/>
<rect x="154" y="130" width="9" height="4" fill="#60c0f4"/>
<rect x="163" y="130" width="10" height="4" fill="#3d52b6"/>
<rect x="173" y="130" width="9" height="4" fill="#60c0f4"/>
<rect x="182" y="130" width="5" height="4" fill="#9ae264"/>
<rect x="187" y="130" width="9" height="4" fill="#72dcbc"/>
<rect x="196" y="130" width="4" height="4" fill="#3d52b6"/>
<rect x="200" y="130" width="5" height="4" fill="#4470d4"/>
<rect x="205" y="130" width="18" height="4" fill="#60c0f4"/>
<rect x="223" y="130" width="5" height="4" fill="#4f98e8"/>
<rect x="228" y="130" width="9" height="4" fill="#60c0f4"/>
<rect x="237" y="130" width="9" height="4" fill="#3d52b6"/>
<rect x="246" y="130" width="5" height="4" fill="#72dcbc"/>
<rect x="251" y="130" width="9" height="4" fill="#4470d4"/>
<rect x="260" y="130" width="5" height="4" fill="#60c0f4"/>
<rect x="265" y="130" width="4" height="4" fill="#4470d4"/>
<rect x="269" y="130" width="10" height="4" fill="#68ccdc"/>
<rect x="279" y="130" width="4" height="4" fill="#4f98e8"/>
<rect x="283" y="130" width="5" height="4" fill="#72dcbc"/>
<rect x="288" y="130" width="4" height="4" fill="#f2ec36"/>
<rect x="292" y="130" width="5" height="4" fill="#9ae264"/>
<rect x="297" y="130" width="5" height="4" fill="#60c0f4"/>
<rect x="302" y="130" width="4" height="4" fill="#9ae264"/>
<rect x="306" y="130" width="9" height="4" fill="#f2ec36"/>
<rect x="315" y="130" width="5" height="4" fill="#9ae264"/>
<rect x="320" y="130" width="5" height="4" fill="#f2ec36"/>
<rect x="325" y="130" width="4" height="4" fill="#fba22e"/>
<rect x="329" y="130" width="9" height="4" fill="#f2ec36"/>
<rect x="338" y="130" width="10" height="4" fill="#f75e2c"/>
<rect x="348" y="130" width="23" height="4" fill="#fba22e"/>
<rect x="371" y="130" width="9" height="4" fill="#f75e2c"/>
<rect x="380" y="130" width="5" height="4" fill="#fba22e"/>
<rect x="385" y="130" width="4" height="4" fill="#f2ec36"/>
<rect x="389" y="130" width="9" height="4" fill="#fba22e"/>
<rect x="398" y="130" width="23" height="4" fill="#f75e2c"/>
<rect x="421" y="130" width="5" height="4" fill="#fba22e"/>
<rect x="426" y="130" width="14" height="4" fill="#f75e2c"/>
<rect x="440" y="130" width="4" height="4" fill="#ec3328"/>
<rect x="444" y="130" width="5" height="4" fill="#f75e2c"/>
<rect x="449" y="130" width="9" height="4" fill="#fba22e"/>
<rect x="458" y="130" width="28" height="4" fill="#f75e2c"/>
<rect x="71" y="134" width="5" height="5" fill="#4470d4"/>
<rect x="76" y="134" width="9" height="5" fill="#4f98e8"/>
<rect x="85" y="134" width="55" height="5" fill="#4470d4"/>
<rect x="140" y="134" width="5" height="5" fill="#4f98e8"/>
<rect x="145" y="134" width="5" height="5" fill="#60c0f4"/>
<rect x="150" y="134" width="9" height="5" fill="#4f98e8"/>
<rect x="159" y="134" width="37" height="5" fill="#60c0f4"/>
<rect x="196" y="134" width="9" height="5" fill="#4470d4"/>
<rect x="205" y="134" width="23" height="5" fill="#60c0f4"/>
<rect x="228" y="134" width="5" height="5" fill="#72dcbc"/>
<rect x="233" y="134" width="13" height="5" fill="#60c0f4"/>
<rect x="246" y="134" width="5" height="5" fill="#72dcbc"/>
<rect x="251" y="134" width="5" height="5" fill="#4f98e8"/>
<rect x="256" y="134" width="4" height="5" fill="#4470d4"/>
<rect x="260" y="134" width="5" height="5" fill="#3d52b6"/>
<rect x="265" y="134" width="4" height="5" fill="#4f98e8"/>
<rect x="269" y="134" width="5" height="5" fill="#68ccdc"/>
<rect x="274" y="134" width="5" height="5" fill="#72dcbc"/>
<rect x="279" y="134" width="4" height="5" fill="#68ccdc"/>
<rect x="283" y="134" width="5" height="5" fill="#72dcbc"/>
<rect x="288" y="134" width="4" height="5" fill="#f2ec36"/>
<rect x="292" y="134" width="5" height="5" fill="#9ae264"/>
<rect x="297" y="134" width="5" height="5" fill="#72dcbc"/>
<rect x="302" y="134" width="18" height="5" fill="#9ae264"/>
<rect x="320" y="134" width="9" height="5" fill="#f2ec36"/>
<rect x="329" y="134" width="14" height="5" fill="#fba22e"/>
<rect x="343" y="134" width="5" height="5" fill="#f75e2c"/>
<rect x="348" y="134" width="4" height="5" fill="#fba22e"/>
<rect x="352" y="134" width="14" height="5" fill="#f75e2c"/>
<rect x="366" y="134" width="5" height="5" fill="#fba22e"/>
<rect x="371" y="134" width="4" height="5" fill="#ec3328"/>
<rect x="375" y="134" width="5" height="5" fill="#f75e2c"/>
<rect x="380" y="134" width="5" height="5" fill="#f2ec36"/>
<rect x="385" y="134" width="13" height="5" fill="#fba22e"/>
<rect x="398" y="134" width="10" height="5" fill="#f75e2c"/>
<rect x="408" y="134" width="4" height="5" fill="#fba22e"/>
<rect x="412" y="134" width="9" height="5" fill="#f75e2c"/>
<rect x="421" y="134" width="5" height="5" fill="#f2ec36"/>
<rect x="426" y="134" width="5" height="5" fill="#fba22e"/>
<rect x="431" y="134" width="9" height="5" fill="#f2ec36"/>
<rect x="440" y="134" width="9" height="5" fill="#f75e2c"/>
<rect x="449" y="134" width="5" height="5" fill="#fba22e"/>
<rect x="454" y="134" width="32" height="5" fill="#f75e2c"/>
<rect x="71" y="139" width="10" height="4" fill="#60c0f4"/>
<rect x="81" y="139" width="4" height="4" fill="#4f98e8"/>
<rect x="85" y="139" width="5" height="4" fill="#4470d4"/>
<rect x="90" y="139" width="4" height="4" fill="#4f98e8"/>
<rect x="94" y="139" width="5" height="4" fill="#60c0f4"/>
<rect x="99" y="139" width="5" height="4" fill="#4470d4"/>
<rect x="104" y="139" width="18" height="4" fill="#4f98e8"/>
<rect x="122" y="139" width="14" height="4" fill="#4470d4"/>
<rect x="136" y="139" width="4" height="4" fill="#3d52b6"/>
<rect x="140" y="139" width="23" height="4" fill="#4470d4"/>
<rect x="163" y="139" width="5" height="4" fill="#9ae264"/>
<rect x="168" y="139" width="5" height="4" fill="#60c0f4"/>
<rect x="173" y="139" width="4" height="4" fill="#4f98e8"/>
<rect x="177" y="139" width="5" height="4" fill="#60c0f4"/>
<rect x="182" y="139" width="9" height="4" fill="#4f98e8"/>
<rect x="191" y="139" width="5" height="4" fill="#60c0f4"/>
<rect x="196" y="139" width="4" height="4" fill="#4f98e8"/>
<rect x="200" y="139" width="5" height="4" fill="#60c0f4"/>
<rect x="205" y="139" width="5" height="4" fill="#72dcbc"/>
<rect x="210" y="139" width="13" height="4" fill="#60c0f4"/>
<rect x="223" y="139" width="5" height="4" fill="#4470d4"/>
<rect x="228" y="139" width="18" height="4" fill="#60c0f4"/>
<rect x="246" y="139" width="5" height="4" fill="#9ae264"/>
<rect x="251" y="139" width="5" height="4" fill="#4f98e8"/>
<rect x="256" y="139" width="4" height="4" fill="#60c0f4"/>
<rect x="260" y="139" width="5" height="4" fill="#4470d4"/>
<rect x="265" y="139" width="9" height="4" fill="#68ccdc"/>
<rect x="274" y="139" width="5" height="4" fill="#72dcbc"/>
<rect x="279" y="139" width="9" height="4" fill="#68ccdc"/>
<rect x="288" y="139" width="4" height="4" fill="#72dcbc"/>
<rect x="292" y="139" width="5" height="4" fill="#9ae264"/>
<rect x="297" y="139" width="5" height="4" fill="#fba22e"/>
<rect x="302" y="139" width="4" height="4" fill="#9ae264"/>
<rect x="306" y="139" width="5" height="4" fill="#f2ec36"/>
<rect x="311" y="139" width="9" height="4" fill="#9ae264"/>
<rect x="320" y="139" width="5" height="4" fill="#f2ec36"/>
<rect x="325" y="139" width="4" height="4" fill="#9ae264"/>
<rect x="329" y="139" width="9" height="4" fill="#f2ec36"/>
<rect x="338" y="139" width="14" height="4" fill="#f75e2c"/>
<rect x="352" y="139" width="5" height="4" fill="#fba22e"/>
<rect x="357" y="139" width="14" height="4" fill="#f2ec36"/>
<rect x="371" y="139" width="4" height="4" fill="#fba22e"/>
<rect x="375" y="139" width="10" height="4" fill="#f75e2c"/>
<rect x="385" y="139" width="4" height="4" fill="#f2ec36"/>
<rect x="389" y="139" width="5" height="4" fill="#fba22e"/>
<rect x="394" y="139" width="4" height="4" fill="#f2ec36"/>
<rect x="398" y="139" width="5" height="4" fill="#fba22e"/>
<rect x="403" y="139" width="23" height="4" fill="#f75e2c"/>
<rect x="426" y="139" width="5" height="4" fill="#ec3328"/>
<rect x="431" y="139" width="4" height="4" fill="#b01c28"/>
<rect x="435" y="139" width="9" height="4" fill="#ec3328"/>
<rect x="444" y="139" width="5" height="4" fill="#f75e2c"/>
<rect x="449" y="139" width="5" height="4" fill="#fba22e"/>
<rect x="454" y="139" width="32" height="4" fill="#f75e2c"/>
<rect x="71" y="143" width="10" height="4" fill="#60c0f4"/>
<rect x="81" y="143" width="18" height="4" fill="#4470d4"/>
<rect x="99" y="143" width="5" height="4" fill="#60c0f4"/>
<rect x="104" y="143" width="36" height="4" fill="#4470d4"/>
<rect x="140" y="143" width="5" height="4" fill="#60c0f4"/>
<rect x="145" y="143" width="5" height="4" fill="#3d52b6"/>
<rect x="150" y="143" width="4" height="4" fill="#4470d4"/>
<rect x="154" y="143" width="9" height="4" fill="#60c0f4"/>
<rect x="163" y="143" width="10" height="4" fill="#72dcbc"/>
<rect x="173" y="143" width="9" height="4" fill="#60c0f4"/>
<rect x="182" y="143" width="5" height="4" fill="#4470d4"/>
<rect x="187" y="143" width="18" height="4" fill="#60c0f4"/>
<rect x="205" y="143" width="5" height="4" fill="#72dcbc"/>
<rect x="210" y="143" width="4" height="4" fill="#60c0f4"/>
<rect x="214" y="143" width="5" height="4" fill="#72dcbc"/>
<rect x="219" y="143" width="4" height="4" fill="#60c0f4"/>
<rect x="223" y="143" width="5" height="4" fill="#4470d4"/>
<rect x="228" y="143" width="18" height="4" fill="#60c0f4"/>
<rect x="246" y="143" width="5" height="4" fill="#9ae264"/>
<rect x="251" y="143" width="9" height="4" fill="#3d52b6"/>
<rect x="260" y="143" width="5" height="4" fill="#4470d4"/>
<rect x="265" y="143" width="4" height="4" fill="#3d52b6"/>
<rect x="269" y="143" width="10" height="4" fill="#68ccdc"/>
<rect x="279" y="143" width="4" height="4" fill="#4f98e8"/>
<rect x="283" y="143" width="5" height="4" fill="#4470d4"/>
<rect x="288" y="143" width="4" height="4" fill="#72dcbc"/>
<rect x="292" y="143" width="5" height="4" fill="#9ae264"/>
<rect x="297" y="143" width="5" height="4" fill="#f2ec36"/>
<rect x="302" y="143" width="9" height="4" fill="#9ae264"/>
<rect x="311" y="143" width="4" height="4" fill="#72dcbc"/>
<rect x="315" y="143" width="5" height="4" fill="#9ae264"/>
<rect x="320" y="143" width="18" height="4" fill="#f2ec36"/>
<rect x="338" y="143" width="5" height="4" fill="#f75e2c"/>
<rect x="343" y="143" width="5" height="4" fill="#fba22e"/>
<rect x="348" y="143" width="4" height="4" fill="#f75e2c"/>
<rect x="352" y="143" width="9" height="4" fill="#f2ec36"/>
<rect x="361" y="143" width="5" height="4" fill="#9ae264"/>
<rect x="366" y="143" width="14" height="4" fill="#f2ec36"/>
<rect x="380" y="143" width="5" height="4" fill="#fba22e"/>
<rect x="385" y="143" width="9" height="4" fill="#f2ec36"/>
<rect x="394" y="143" width="4" height="4" fill="#fba22e"/>
<rect x="398" y="143" width="23" height="4" fill="#f75e2c"/>
<rect x="421" y="143" width="10" height="4" fill="#ec3328"/>
<rect x="431" y="143" width="4" height="4" fill="#b01c28"/>
<rect x="435" y="143" width="14" height="4" fill="#ec3328"/>
<rect x="449" y="143" width="9" height="4" fill="#fba22e"/>
<rect x="458" y="143" width="5" height="4" fill="#f75e2c"/>
<rect x="463" y="143" width="4" height="4" fill="#ec3328"/>
<rect x="467" y="143" width="5" height="4" fill="#f75e2c"/>
<rect x="472" y="143" width="9" height="4" fill="#ec3328"/>
<rect x="481" y="143" width="5" height="4" fill="#f75e2c"/>
<rect x="71" y="147" width="5" height="4" fill="#60c0f4"/>
<rect x="76" y="147" width="5" height="4" fill="#4f98e8"/>
<rect x="81" y="147" width="13" height="4" fill="#4470d4"/>
<rect x="94" y="147" width="5" height="4" fill="#60c0f4"/>
<rect x="99" y="147" width="5" height="4" fill="#4470d4"/>
<rect x="104" y="147" width="18" height="4" fill="#60c0f4"/>
<rect x="122" y="147" width="14" height="4" fill="#4470d4"/>
<rect x="136" y="147" width="4" height="4" fill="#4f98e8"/>
<rect x="140" y="147" width="5" height="4" fill="#60c0f4"/>
<rect x="145" y="147" width="5" height="4" fill="#3d52b6"/>
<rect x="150" y="147" width="18" height="4" fill="#60c0f4"/>
<rect x="168" y="147" width="5" height="4" fill="#9ae264"/>
<rect x="173" y="147" width="4" height="4" fill="#60c0f4"/>
<rect x="177" y="147" width="10" height="4" fill="#4470d4"/>
<rect x="187" y="147" width="23" height="4" fill="#60c0f4"/>
<rect x="210" y="147" width="9" height="4" fill="#72dcbc"/>
<rect x="219" y="147" width="4" height="4" fill="#60c0f4"/>
<rect x="223" y="147" width="5" height="4" fill="#4470d4"/>
<rect x="228" y="147" width="5" height="4" fill="#4f98e8"/>
<rect x="233" y="147" width="9" height="4" fill="#60c0f4"/>
<rect x="242" y="147" width="9" height="4" fill="#72dcbc"/>
<rect x="251" y="147" width="5" height="4" fill="#4470d4"/>
<rect x="256" y="147" width="9" height="4" fill="#3d52b6"/>
<rect x="265" y="147" width="4" height="4" fill="#4470d4"/>
<rect x="269" y="147" width="10" height="4" fill="#68ccdc"/>
<rect x="279" y="147" width="9" height="4" fill="#4470d4"/>
<rect x="288" y="147" width="4" height="4" fill="#72dcbc"/>
<rect x="292" y="147" width="5" height="4" fill="#9ae264"/>
<rect x="297" y="147" width="5" height="4" fill="#72dcbc"/>
<rect x="302" y="147" width="4" height="4" fill="#9ae264"/>
<rect x="306" y="147" width="5" height="4" fill="#f2ec36"/>
<rect x="311" y="147" width="9" height="4" fill="#72dcbc"/>
<rect x="320" y="147" width="14" height="4" fill="#9ae264"/>
<rect x="334" y="147" width="14" height="4" fill="#f2ec36"/>
<rect x="348" y="147" width="4" height="4" fill="#f75e2c"/>
<rect x="352" y="147" width="9" height="4" fill="#fba22e"/>
<rect x="361" y="147" width="10" height="4" fill="#f2ec36"/>
<rect x="371" y="147" width="14" height="4" fill="#f75e2c"/>
<rect x="385" y="147" width="4" height="4" fill="#f2ec36"/>
<rect x="389" y="147" width="5" height="4" fill="#fba22e"/>
<rect x="394" y="147" width="27" height="4" fill="#f75e2c"/>
<rect x="421" y="147" width="10" height="4" fill="#ec3328"/>
<rect x="431" y="147" width="4" height="4" fill="#b01c28"/>
<rect x="435" y="147" width="5" height="4" fill="#ec3328"/>
<rect x="440" y="147" width="4" height="4" fill="#b01c28"/>
<rect x="444" y="147" width="5" height="4" fill="#ec3328"/>
<rect x="449" y="147" width="9" height="4" fill="#fba22e"/>
<rect x="458" y="147" width="9" height="4" fill="#ec3328"/>
<rect x="467" y="147" width="5" height="4" fill="#f75e2c"/>
<rect x="472" y="147" width="9" height="4" fill="#ec3328"/>
<rect x="481" y="147" width="5" height="4" fill="#f75e2c"/>
<rect x="71" y="151" width="10" height="4" fill="#4470d4"/>
<rect x="81" y="151" width="4" height="4" fill="#4f98e8"/>
<rect x="85" y="151" width="51" height="4" fill="#4470d4"/>
<rect x="136" y="151" width="4" height="4" fill="#60c0f4"/>
<rect x="140" y="151" width="5" height="4" fill="#4f98e8"/>
<rect x="145" y="151" width="5" height="4" fill="#60c0f4"/>
<rect x="150" y="151" width="4" height="4" fill="#4f98e8"/>
<rect x="154" y="151" width="5" height="4" fill="#4470d4"/>
<rect x="159" y="151" width="4" height="4" fill="#60c0f4"/>
<rect x="163" y="151" width="5" height="4" fill="#9ae264"/>
<rect x="168" y="151" width="5" height="4" fill="#f2ec36"/>
<rect x="173" y="151" width="4" height="4" fill="#60c0f4"/>
<rect x="177" y="151" width="5" height="4" fill="#f2ec36"/>
<rect x="182" y="151" width="14" height="4" fill="#60c0f4"/>
<rect x="196" y="151" width="9" height="4" fill="#3d52b6"/>
<rect x="205" y="151" width="5" height="4" fill="#60c0f4"/>
<rect x="210" y="151" width="4" height="4" fill="#72dcbc"/>
<rect x="214" y="151" width="5" height="4" fill="#9ae264"/>
<rect x="219" y="151" width="4" height="4" fill="#72dcbc"/>
<rect x="223" y="151" width="19" height="4" fill="#60c0f4"/>
<rect x="242" y="151" width="4" height="4" fill="#f2ec36"/>
<rect x="246" y="151" width="5" height="4" fill="#72dcbc"/>
<rect x="251" y="151" width="9" height="4" fill="#4470d4"/>
<rect x="260" y="151" width="5" height="4" fill="#60c0f4"/>
<rect x="265" y="151" width="4" height="4" fill="#4f98e8"/>
<rect x="269" y="151" width="10" height="4" fill="#60c0f4"/>
<rect x="279" y="151" width="13" height="4" fill="#72dcbc"/>
<rect x="292" y="151" width="5" height="4" fill="#9ae264"/>
<rect x="297" y="151" width="5" height="4" fill="#ec3328"/>
<rect x="302" y="151" width="4" height="4" fill="#72dcbc"/>
<rect x="306" y="151" width="14" height="4" fill="#9ae264"/>
<rect x="320" y="151" width="18" height="4" fill="#f2ec36"/>
<rect x="338" y="151" width="5" height="4" fill="#b01c28"/>
<rect x="343" y="151" width="5" height="4" fill="#fba22e"/>
<rect x="348" y="151" width="4" height="4" fill="#ec3328"/>
<rect x="352" y="151" width="9" height="4" fill="#fba22e"/>
<rect x="361" y="151" width="10" height="4" fill="#9ae264"/>
<rect x="371" y="151" width="4" height="4" fill="#f2ec36"/>
<rect x="375" y="151" width="10" height="4" fill="#fba22e"/>
<rect x="385" y="151" width="4" height="4" fill="#9ae264"/>
<rect x="389" y="151" width="9" height="4" fill="#f2ec36"/>
<rect x="398" y="151" width="5" height="4" fill="#fba22e"/>
<rect x="403" y="151" width="5" height="4" fill="#f75e2c"/>
<rect x="408" y="151" width="4" height="4" fill="#fba22e"/>
<rect x="412" y="151" width="5" height="4" fill="#f75e2c"/>
<rect x="417" y="151" width="4" height="4" fill="#fba22e"/>
<rect x="421" y="151" width="5" height="4" fill="#f75e2c"/>
<rect x="426" y="151" width="5" height="4" fill="#ec3328"/>
<rect x="431" y="151" width="4" height="4" fill="#b01c28"/>
<rect x="435" y="151" width="9" height="4" fill="#ec3328"/>
<rect x="444" y="151" width="5" height="4" fill="#f75e2c"/>
<rect x="449" y="151" width="9" height="4" fill="#f2ec36"/>
<rect x="458" y="151" width="23" height="4" fill="#f75e2c"/>
<rect x="481" y="151" width="5" height="4" fill="#fba22e"/>
<rect x="71" y="155" width="5" height="5" fill="#4470d4"/>
<rect x="76" y="155" width="5" height="5" fill="#3d52b6"/>
<rect x="81" y="155" width="32" height="5" fill="#4470d4"/>
<rect x="113" y="155" width="4" height="5" fill="#3d52b6"/>
<rect x="117" y="155" width="14" height="5" fill="#4470d4"/>
<rect x="131" y="155" width="5" height="5" fill="#60c0f4"/>
<rect x="136" y="155" width="4" height="5" fill="#4f98e8"/>
<rect x="140" y="155" width="5" height="5" fill="#4470d4"/>
<rect x="145" y="155" width="5" height="5" fill="#4f98e8"/>
<rect x="150" y="155" width="4" height="5" fill="#4470d4"/>
<rect x="154" y="155" width="5" height="5" fill="#3d52b6"/>
<rect x="159" y="155" width="4" height="5" fill="#60c0f4"/>
<rect x="163" y="155" width="5" height="5" fill="#4f98e8"/>
<rect x="168" y="155" width="9" height="5" fill="#60c0f4"/>
<rect x="177" y="155" width="5" height="5" fill="#4470d4"/>
<rect x="182" y="155" width="5" height="5" fill="#60c0f4"/>
<rect x="187" y="155" width="9" height="5" fill="#72dcbc"/>
<rect x="196" y="155" width="9" height="5" fill="#3d52b6"/>
<rect x="205" y="155" width="18" height="5" fill="#60c0f4"/>
<rect x="223" y="155" width="5" height="5" fill="#4f98e8"/>
<rect x="228" y="155" width="18" height="5" fill="#60c0f4"/>
<rect x="246" y="155" width="5" height="5" fill="#9ae264"/>
<rect x="251" y="155" width="5" height="5" fill="#4f98e8"/>
<rect x="256" y="155" width="4" height="5" fill="#4470d4"/>
<rect x="260" y="155" width="5" height="5" fill="#60c0f4"/>
<rect x="265" y="155" width="4" height="5" fill="#4f98e8"/>
<rect x="269" y="155" width="5" height="5" fill="#60c0f4"/>
<rect x="274" y="155" width="5" height="5" fill="#f2ec36"/>
<rect x="279" y="155" width="4" height="5" fill="#9ae264"/>
<rect x="283" y="155" width="5" height="5" fill="#fba22e"/>
<rect x="288" y="155" width="4" height="5" fill="#9ae264"/>
<rect x="292" y="155" width="5" height="5" fill="#fba22e"/>
<rect x="297" y="155" width="5" height="5" fill="#72dcbc"/>
<rect x="302" y="155" width="9" height="5" fill="#fba22e"/>
<rect x="311" y="155" width="4" height="5" fill="#f2ec36"/>
<rect x="315" y="155" width="5" height="5" fill="#f75e2c"/>
<rect x="320" y="155" width="5" height="5" fill="#fba22e"/>
<rect x="325" y="155" width="9" height="5" fill="#f2ec36"/>
<rect x="334" y="155" width="4" height="5" fill="#fba22e"/>
<rect x="338" y="155" width="5" height="5" fill="#f75e2c"/>
<rect x="343" y="155" width="9" height="5" fill="#fba22e"/>
<rect x="352" y="155" width="9" height="5" fill="#f2ec36"/>
<rect x="361" y="155" width="10" height="5" fill="#f75e2c"/>
<rect x="371" y="155" width="14" height="5" fill="#f2ec36"/>
<rect x="385" y="155" width="18" height="5" fill="#fba22e"/>
<rect x="403" y="155" width="5" height="5" fill="#f2ec36"/>
<rect x="408" y="155" width="4" height="5" fill="#fba22e"/>
<rect x="412" y="155" width="5" height="5" fill="#f75e2c"/>
<rect x="417" y="155" width="4" height="5" fill="#f2ec36"/>
<rect x="421" y="155" width="5" height="5" fill="#fba22e"/>
<rect x="426" y="155" width="5" height="5" fill="#f75e2c"/>
<rect x="431" y="155" width="4" height="5" fill="#f2ec36"/>
<rect x="435" y="155" width="5" height="5" fill="#fba22e"/>
<rect x="440" y="155" width="14" height="5" fill="#f75e2c"/>
<rect x="454" y="155" width="4" height="5" fill="#fba22e"/>
<rect x="458" y="155" width="9" height="5" fill="#f75e2c"/>
<rect x="467" y="155" width="19" height="5" fill="#fba22e"/>
<rect x="71" y="160" width="46" height="4" fill="#4470d4"/>
<rect x="117" y="160" width="5" height="4" fill="#4f98e8"/>
<rect x="122" y="160" width="18" height="4" fill="#4470d4"/>
<rect x="140" y="160" width="14" height="4" fill="#60c0f4"/>
<rect x="154" y="160" width="5" height="4" fill="#4470d4"/>
<rect x="159" y="160" width="9" height="4" fill="#72dcbc"/>
<rect x="168" y="160" width="14" height="4" fill="#60c0f4"/>
<rect x="182" y="160" width="5" height="4" fill="#72dcbc"/>
<rect x="187" y="160" width="4" height="4" fill="#9ae264"/>
<rect x="191" y="160" width="5" height="4" fill="#72dcbc"/>
<rect x="196" y="160" width="9" height="4" fill="#4470d4"/>
<rect x="205" y="160" width="5" height="4" fill="#9ae264"/>
<rect x="210" y="160" width="4" height="4" fill="#72dcbc"/>
<rect x="214" y="160" width="9" height="4" fill="#60c0f4"/>
<rect x="223" y="160" width="5" height="4" fill="#4f98e8"/>
<rect x="228" y="160" width="5" height="4" fill="#60c0f4"/>
<rect x="233" y="160" width="9" height="4" fill="#72dcbc"/>
<rect x="242" y="160" width="4" height="4" fill="#60c0f4"/>
<rect x="246" y="160" width="5" height="4" fill="#9ae264"/>
<rect x="251" y="160" width="5" height="4" fill="#4f98e8"/>
<rect x="256" y="160" width="4" height="4" fill="#4470d4"/>
<rect x="260" y="160" width="14" height="4" fill="#60c0f4"/>
<rect x="274" y="160" width="5" height="4" fill="#72dcbc"/>
<rect x="279" y="160" width="4" height="4" fill="#9ae264"/>
<rect x="283" y="160" width="5" height="4" fill="#f2ec36"/>
<rect x="288" y="160" width="4" height="4" fill="#9ae264"/>
<rect x="292" y="160" width="5" height="4" fill="#f2ec36"/>
<rect x="297" y="160" width="5" height="4" fill="#72dcbc"/>
<rect x="302" y="160" width="9" height="4" fill="#f2ec36"/>
<rect x="311" y="160" width="4" height="4" fill="#9ae264"/>
<rect x="315" y="160" width="5" height="4" fill="#fba22e"/>
<rect x="320" y="160" width="9" height="4" fill="#f2ec36"/>
<rect x="329" y="160" width="5" height="4" fill="#9ae264"/>
<rect x="334" y="160" width="4" height="4" fill="#fba22e"/>
<rect x="338" y="160" width="5" height="4" fill="#ec3328"/>
<rect x="343" y="160" width="5" height="4" fill="#fba22e"/>
<rect x="348" y="160" width="4" height="4" fill="#b01c28"/>
<rect x="352" y="160" width="9" height="4" fill="#f2ec36"/>
<rect x="361" y="160" width="14" height="4" fill="#9ae264"/>
<rect x="375" y="160" width="19" height="4" fill="#f2ec36"/>
<rect x="394" y="160" width="4" height="4" fill="#fba22e"/>
<rect x="398" y="160" width="19" height="4" fill="#f75e2c"/>
<rect x="417" y="160" width="9" height="4" fill="#fba22e"/>
<rect x="426" y="160" width="23" height="4" fill="#f75e2c"/>
<rect x="449" y="160" width="37" height="4" fill="#fba22e"/>
<rect x="71" y="164" width="10" height="4" fill="#f2ec36"/>
<rect x="81" y="164" width="13" height="4" fill="#fba22e"/>
<rect x="94" y="164" width="5" height="4" fill="#9ae264"/>
<rect x="99" y="164" width="5" height="4" fill="#ec3328"/>
<rect x="104" y="164" width="9" height="4" fill="#f2ec36"/>
<rect x="113" y="164" width="4" height="4" fill="#9ae264"/>
<rect x="117" y="164" width="5" height="4" fill="#f2ec36"/>
<rect x="122" y="164" width="9" height="4" fill="#fba22e"/>
<rect x="131" y="164" width="5" height="4" fill="#f2ec36"/>
<rect x="136" y="164" width="9" height="4" fill="#9ae264"/>
<rect x="145" y="164" width="9" height="4" fill="#f2ec36"/>
<rect x="154" y="164" width="28" height="4" fill="#72dcbc"/>
<rect x="182" y="164" width="9" height="4" fill="#f2ec36"/>
<rect x="191" y="164" width="5" height="4" fill="#9ae264"/>
<rect x="196" y="164" width="14" height="4" fill="#60c0f4"/>
<rect x="210" y="164" width="9" height="4" fill="#f75e2c"/>
<rect x="219" y="164" width="4" height="4" fill="#fba22e"/>
<rect x="223" y="164" width="10" height="4" fill="#f75e2c"/>
<rect x="233" y="164" width="4" height="4" fill="#f8d034"/>
<rect x="237" y="164" width="5" height="4" fill="#ec3328"/>
<rect x="242" y="164" width="4" height="4" fill="#fba22e"/>
<rect x="246" y="164" width="5" height="4" fill="#f2ec36"/>
<rect x="251" y="164" width="5" height="4" fill="#fba22e"/>
<rect x="256" y="164" width="4" height="4" fill="#f75e2c"/>
<rect x="260" y="164" width="19" height="4" fill="#fba22e"/>
<rect x="279" y="164" width="9" height="4" fill="#f75e2c"/>
<rect x="288" y="164" width="4" height="4" fill="#4f98e8"/>
<rect x="292" y="164" width="10" height="4" fill="#9ae264"/>
<rect x="302" y="164" width="4" height="4" fill="#fba22e"/>
<rect x="306" y="164" width="5" height="4" fill="#ec3328"/>
<rect x="311" y="164" width="9" height="4" fill="#9ae264"/>
<rect x="320" y="164" width="5" height="4" fill="#f2ec36"/>
<rect x="325" y="164" width="9" height="4" fill="#9ae264"/>
<rect x="334" y="164" width="4" height="4" fill="#72dcbc"/>
<rect x="338" y="164" width="23" height="4" fill="#60c0f4"/>
<rect x="361" y="164" width="14" height="4" fill="#4470d4"/>
<rect x="375" y="164" width="5" height="4" fill="#4f98e8"/>
<rect x="380" y="164" width="23" height="4" fill="#4470d4"/>
<rect x="403" y="164" width="9" height="4" fill="#4f98e8"/>
<rect x="412" y="164" width="51" height="4" fill="#4470d4"/>
<rect x="463" y="164" width="4" height="4" fill="#4f98e8"/>
<rect x="467" y="164" width="19" height="4" fill="#4470d4"/>
<rect x="71" y="168" width="28" height="4" fill="#60c0f4"/>
<rect x="99" y="168" width="5" height="4" fill="#72dcbc"/>
<rect x="104" y="168" width="9" height="4" fill="#60c0f4"/>
<rect x="113" y="168" width="4" height="4" fill="#4f98e8"/>
<rect x="117" y="168" width="5" height="4" fill="#4470d4"/>
<rect x="122" y="168" width="9" height="4" fill="#60c0f4"/>
<rect x="131" y="168" width="5" height="4" fill="#72dcbc"/>
<rect x="136" y="168" width="14" height="4" fill="#9ae264"/>
<rect x="150" y="168" width="4" height="4" fill="#f2ec36"/>
<rect x="154" y="168" width="5" height="4" fill="#60c0f4"/>
<rect x="159" y="168" width="14" height="4" fill="#4470d4"/>
<rect x="173" y="168" width="4" height="4" fill="#72dcbc"/>
<rect x="177" y="168" width="19" height="4" fill="#9ae264"/>
<rect x="196" y="168" width="4" height="4" fill="#60c0f4"/>
<rect x="200" y="168" width="5" height="4" fill="#4f98e8"/>
<rect x="205" y="168" width="5" height="4" fill="#60c0f4"/>
<rect x="210" y="168" width="13" height="4" fill="#ec3328"/>
<rect x="223" y="168" width="5" height="4" fill="#b01c28"/>
<rect x="228" y="168" width="9" height="4" fill="#ec3328"/>
<rect x="237" y="168" width="5" height="4" fill="#b01c28"/>
<rect x="242" y="168" width="18" height="4" fill="#f75e2c"/>
<rect x="260" y="168" width="5" height="4" fill="#fba22e"/>
<rect x="265" y="168" width="4" height="4" fill="#f75e2c"/>
<rect x="269" y="168" width="5" height="4" fill="#fba22e"/>
<rect x="274" y="168" width="5" height="4" fill="#f75e2c"/>
<rect x="279" y="168" width="4" height="4" fill="#ec3328"/>
<rect x="283" y="168" width="5" height="4" fill="#f75e2c"/>
<rect x="288" y="168" width="9" height="4" fill="#f2ec36"/>
<rect x="297" y="168" width="5" height="4" fill="#72dcbc"/>
<rect x="302" y="168" width="4" height="4" fill="#fba22e"/>
<rect x="306" y="168" width="5" height="4" fill="#ec3328"/>
<rect x="311" y="168" width="4" height="4" fill="#fba22e"/>
<rect x="315" y="168" width="5" height="4" fill="#f2ec36"/>
<rect x="320" y="168" width="5" height="4" fill="#f75e2c"/>
<rect x="325" y="168" width="4" height="4" fill="#ec3328"/>
<rect x="329" y="168" width="5" height="4" fill="#f2ec36"/>
<rect x="334" y="168" width="4" height="4" fill="#9ae264"/>
<rect x="338" y="168" width="23" height="4" fill="#60c0f4"/>
<rect x="361" y="168" width="19" height="4" fill="#58aeee"/>
<rect x="380" y="168" width="5" height="4" fill="#4470d4"/>
<rect x="385" y="168" width="13" height="4" fill="#58aeee"/>
<rect x="398" y="168" width="5" height="4" fill="#4f98e8"/>
<rect x="403" y="168" width="18" height="4" fill="#58aeee"/>
<rect x="421" y="168" width="5" height="4" fill="#4470d4"/>
<rect x="426" y="168" width="9" height="4" fill="#4f98e8"/>
<rect x="435" y="168" width="23" height="4" fill="#58aeee"/>
<rect x="458" y="168" width="5" height="4" fill="#4470d4"/>
<rect x="463" y="168" width="9" height="4" fill="#58aeee"/>
<rect x="472" y="168" width="5" height="4" fill="#4f98e8"/>
<rect x="477" y="168" width="4" height="4" fill="#58aeee"/>
<rect x="481" y="168" width="5" height="4" fill="#4f98e8"/>
<rect x="71" y="172" width="5" height="4" fill="#60c0f4"/>
<rect x="76" y="172" width="5" height="4" fill="#4470d4"/>
<rect x="81" y="172" width="4" height="4" fill="#60c0f4"/>
<rect x="85" y="172" width="9" height="4" fill="#4f98e8"/>
<rect x="94" y="172" width="10" height="4" fill="#60c0f4"/>
<rect x="104" y="172" width="9" height="4" fill="#72dcbc"/>
<rect x="113" y="172" width="4" height="4" fill="#60c0f4"/>
<rect x="117" y="172" width="10" height="4" fill="#4f98e8"/>
<rect x="127" y="172" width="4" height="4" fill="#60c0f4"/>
<rect x="131" y="172" width="9" height="4" fill="#72dcbc"/>
<rect x="140" y="172" width="10" height="4" fill="#9ae264"/>
<rect x="150" y="172" width="4" height="4" fill="#f2ec36"/>
<rect x="154" y="172" width="5" height="4" fill="#9ae264"/>
<rect x="159" y="172" width="4" height="4" fill="#4f98e8"/>
<rect x="163" y="172" width="5" height="4" fill="#60c0f4"/>
<rect x="168" y="172" width="5" height="4" fill="#4f98e8"/>
<rect x="173" y="172" width="9" height="4" fill="#72dcbc"/>
<rect x="182" y="172" width="5" height="4" fill="#9ae264"/>
<rect x="187" y="172" width="4" height="4" fill="#f2ec36"/>
<rect x="191" y="172" width="5" height="4" fill="#9ae264"/>
<rect x="196" y="172" width="9" height="4" fill="#4470d4"/>
<rect x="205" y="172" width="5" height="4" fill="#60c0f4"/>
<rect x="210" y="172" width="9" height="4" fill="#b01c28"/>
<rect x="219" y="172" width="9" height="4" fill="#ec3328"/>
<rect x="228" y="172" width="14" height="4" fill="#b01c28"/>
<rect x="242" y="172" width="4" height="4" fill="#ec3328"/>
<rect x="246" y="172" width="14" height="4" fill="#fba22e"/>
<rect x="260" y="172" width="5" height="4" fill="#f2ec36"/>
<rect x="265" y="172" width="4" height="4" fill="#f75e2c"/>
<rect x="269" y="172" width="10" height="4" fill="#fba22e"/>
<rect x="279" y="172" width="9" height="4" fill="#b01c28"/>
<rect x="288" y="172" width="9" height="4" fill="#f2ec36"/>
<rect x="297" y="172" width="5" height="4" fill="#f75e2c"/>
<rect x="302" y="172" width="9" height="4" fill="#9ae264"/>
<rect x="311" y="172" width="9" height="4" fill="#f2ec36"/>
<rect x="320" y="172" width="9" height="4" fill="#fba22e"/>
<rect x="329" y="172" width="5" height="4" fill="#9ae264"/>
<rect x="334" y="172" width="4" height="4" fill="#72dcbc"/>
<rect x="338" y="172" width="10" height="4" fill="#60c0f4"/>
<rect x="348" y="172" width="4" height="4" fill="#72dcbc"/>
<rect x="352" y="172" width="5" height="4" fill="#60c0f4"/>
<rect x="357" y="172" width="4" height="4" fill="#9ae264"/>
<rect x="361" y="172" width="5" height="4" fill="#58aeee"/>
<rect x="366" y="172" width="5" height="4" fill="#4470d4"/>
<rect x="371" y="172" width="9" height="4" fill="#4f98e8"/>
<rect x="380" y="172" width="5" height="4" fill="#4470d4"/>
<rect x="385" y="172" width="4" height="4" fill="#58aeee"/>
<rect x="389" y="172" width="5" height="4" fill="#60c0f4"/>
<rect x="394" y="172" width="27" height="4" fill="#58aeee"/>
<rect x="421" y="172" width="5" height="4" fill="#4470d4"/>
<rect x="426" y="172" width="5" height="4" fill="#58aeee"/>
<rect x="431" y="172" width="4" height="4" fill="#4470d4"/>
<rect x="435" y="172" width="23" height="4" fill="#58aeee"/>
<rect x="458" y="172" width="5" height="4" fill="#4470d4"/>
<rect x="463" y="172" width="4" height="4" fill="#58aeee"/>
<rect x="467" y="172" width="5" height="4" fill="#4470d4"/>
<rect x="472" y="172" width="5" height="4" fill="#58aeee"/>
<rect x="477" y="172" width="4" height="4" fill="#4f98e8"/>
<rect x="481" y="172" width="5" height="4" fill="#58aeee"/>
<rect x="71" y="176" width="14" height="5" fill="#4f98e8"/>
<rect x="85" y="176" width="9" height="5" fill="#60c0f4"/>
<rect x="94" y="176" width="19" height="5" fill="#72dcbc"/>
<rect x="113" y="176" width="4" height="5" fill="#60c0f4"/>
<rect x="117" y="176" width="5" height="5" fill="#4f98e8"/>
<rect x="122" y="176" width="9" height="5" fill="#60c0f4"/>
<rect x="131" y="176" width="9" height="5" fill="#72dcbc"/>
<rect x="140" y="176" width="19" height="5" fill="#9ae264"/>
<rect x="159" y="176" width="14" height="5" fill="#4470d4"/>
<rect x="173" y="176" width="9" height="5" fill="#72dcbc"/>
<rect x="182" y="176" width="5" height="5" fill="#9ae264"/>
<rect x="187" y="176" width="4" height="5" fill="#f2ec36"/>
<rect x="191" y="176" width="5" height="5" fill="#9ae264"/>
<rect x="196" y="176" width="14" height="5" fill="#60c0f4"/>
<rect x="210" y="176" width="4" height="5" fill="#ec3328"/>
<rect x="214" y="176" width="5" height="5" fill="#b01c28"/>
<rect x="219" y="176" width="18" height="5" fill="#ec3328"/>
<rect x="237" y="176" width="5" height="5" fill="#b01c28"/>
<rect x="242" y="176" width="4" height="5" fill="#ec3328"/>
<rect x="246" y="176" width="5" height="5" fill="#fba22e"/>
<rect x="251" y="176" width="5" height="5" fill="#b01c28"/>
<rect x="256" y="176" width="4" height="5" fill="#f75e2c"/>
<rect x="260" y="176" width="9" height="5" fill="#fba22e"/>
<rect x="269" y="176" width="5" height="5" fill="#f75e2c"/>
<rect x="274" y="176" width="5" height="5" fill="#fba22e"/>
<rect x="279" y="176" width="4" height="5" fill="#b01c28"/>
<rect x="283" y="176" width="5" height="5" fill="#ec3328"/>
<rect x="288" y="176" width="4" height="5" fill="#72dcbc"/>
<rect x="292" y="176" width="5" height="5" fill="#9ae264"/>
<rect x="297" y="176" width="5" height="5" fill="#f75e2c"/>
<rect x="302" y="176" width="4" height="5" fill="#ec3328"/>
<rect x="306" y="176" width="5" height="5" fill="#f75e2c"/>
<rect x="311" y="176" width="9" height="5" fill="#f2ec36"/>
<rect x="320" y="176" width="5" height="5" fill="#fba22e"/>
<rect x="325" y="176" width="4" height="5" fill="#f2ec36"/>
<rect x="329" y="176" width="5" height="5" fill="#9ae264"/>
<rect x="334" y="176" width="4" height="5" fill="#72dcbc"/>
<rect x="338" y="176" width="10" height="5" fill="#60c0f4"/>
<rect x="348" y="176" width="4" height="5" fill="#72dcbc"/>
<rect x="352" y="176" width="5" height="5" fill="#60c0f4"/>
<rect x="357" y="176" width="4" height="5" fill="#72dcbc"/>
<rect x="361" y="176" width="19" height="5" fill="#58aeee"/>
<rect x="380" y="176" width="5" height="5" fill="#4470d4"/>
<rect x="385" y="176" width="13" height="5" fill="#60c0f4"/>
<rect x="398" y="176" width="51" height="5" fill="#58aeee"/>
<rect x="449" y="176" width="5" height="5" fill="#60c0f4"/>
<rect x="454" y="176" width="4" height="5" fill="#58aeee"/>
<rect x="458" y="176" width="5" height="5" fill="#4470d4"/>
<rect x="463" y="176" width="23" height="5" fill="#58aeee"/>
<rect x="71" y="181" width="14" height="4" fill="#f75e2c"/>
<rect x="85" y="181" width="9" height="4" fill="#fba22e"/>
<rect x="94" y="181" width="10" height="4" fill="#f75e2c"/>
<rect x="104" y="181" width="9" height="4" fill="#f2ec36"/>
<rect x="113" y="181" width="4" height="4" fill="#f75e2c"/>
<rect x="117" y="181" width="5" height="4" fill="#f2ec36"/>
<rect x="122" y="181" width="5" height="4" fill="#fba22e"/>
<rect x="127" y="181" width="13" height="4" fill="#9ae264"/>
<rect x="140" y="181" width="5" height="4" fill="#fba22e"/>
<rect x="145" y="181" width="5" height="4" fill="#f75e2c"/>
<rect x="150" y="181" width="4" height="4" fill="#b01c28"/>
<rect x="154" y="181" width="9" height="4" fill="#9ae264"/>
<rect x="163" y="181" width="5" height="4" fill="#fba22e"/>
<rect x="168" y="181" width="5" height="4" fill="#9ae264"/>
<rect x="173" y="181" width="4" height="4" fill="#f2ec36"/>
<rect x="177" y="181" width="5" height="4" fill="#ec3328"/>
<rect x="182" y="181" width="14" height="4" fill="#9ae264"/>
<rect x="196" y="181" width="14" height="4" fill="#60c0f4"/>
<rect x="210" y="181" width="13" height="4" fill="#9ae264"/>
<rect x="223" y="181" width="10" height="4" fill="#f2ec36"/>
<rect x="233" y="181" width="9" height="4" fill="#9ae264"/>
<rect x="242" y="181" width="9" height="4" fill="#f2ec36"/>
<rect x="251" y="181" width="5" height="4" fill="#fba22e"/>
<rect x="256" y="181" width="4" height="4" fill="#b01c28"/>
<rect x="260" y="181" width="5" height="4" fill="#fba22e"/>
<rect x="265" y="181" width="4" height="4" fill="#b01c28"/>
<rect x="269" y="181" width="5" height="4" fill="#fba22e"/>
<rect x="274" y="181" width="5" height="4" fill="#f2ec36"/>
<rect x="279" y="181" width="4" height="4" fill="#b01c28"/>
<rect x="283" y="181" width="5" height="4" fill="#f75e2c"/>
<rect x="288" y="181" width="4" height="4" fill="#72dcbc"/>
<rect x="292" y="181" width="5" height="4" fill="#9ae264"/>
<rect x="297" y="181" width="41" height="4" fill="#60c0f4"/>
<rect x="338" y="181" width="5" height="4" fill="#4f98e8"/>
<rect x="343" y="181" width="18" height="4" fill="#60c0f4"/>
<rect x="361" y="181" width="28" height="4" fill="#4470d4"/>
<rect x="389" y="181" width="5" height="4" fill="#4f98e8"/>
<rect x="394" y="181" width="14" height="4" fill="#4470d4"/>
<rect x="408" y="181" width="9" height="4" fill="#4f98e8"/>
<rect x="417" y="181" width="14" height="4" fill="#4470d4"/>
<rect x="431" y="181" width="4" height="4" fill="#4f98e8"/>
<rect x="435" y="181" width="9" height="4" fill="#4470d4"/>
<rect x="444" y="181" width="5" height="4" fill="#4f98e8"/>
<rect x="449" y="181" width="9" height="4" fill="#58aeee"/>
<rect x="458" y="181" width="9" height="4" fill="#4470d4"/>
<rect x="467" y="181" width="5" height="4" fill="#58aeee"/>
<rect x="472" y="181" width="9" height="4" fill="#4470d4"/>
<rect x="481" y="181" width="5" height="4" fill="#4f98e8"/>
<rect x="71" y="185" width="14" height="4" fill="#b01c28"/>
<rect x="85" y="185" width="5" height="4" fill="#ec3328"/>
<rect x="90" y="185" width="4" height="4" fill="#b01c28"/>
<rect x="94" y="185" width="5" height="4" fill="#ec3328"/>
<rect x="99" y="185" width="5" height="4" fill="#b01c28"/>
<rect x="104" y="185" width="4" height="4" fill="#fba22e"/>
<rect x="108" y="185" width="19" height="4" fill="#f2ec36"/>
<rect x="127" y="185" width="9" height="4" fill="#fba22e"/>
<rect x="136" y="185" width="9" height="4" fill="#f2ec36"/>
<rect x="145" y="185" width="5" height="4" fill="#f75e2c"/>
<rect x="150" y="185" width="4" height="4" fill="#ec3328"/>
<rect x="154" y="185" width="9" height="4" fill="#9ae264"/>
<rect x="163" y="185" width="10" height="4" fill="#f2ec36"/>
<rect x="173" y="185" width="4" height="4" fill="#9ae264"/>
<rect x="177" y="185" width="10" height="4" fill="#72dcbc"/>
<rect x="187" y="185" width="9" height="4" fill="#9ae264"/>
<rect x="196" y="185" width="14" height="4" fill="#60c0f4"/>
<rect x="210" y="185" width="18" height="4" fill="#72dcbc"/>
<rect x="228" y="185" width="18" height="4" fill="#9ae264"/>
<rect x="246" y="185" width="5" height="4" fill="#f2ec36"/>
<rect x="251" y="185" width="5" height="4" fill="#f75e2c"/>
<rect x="256" y="185" width="4" height="4" fill="#ec3328"/>
<rect x="260" y="185" width="5" height="4" fill="#b01c28"/>
<rect x="265" y="185" width="4" height="4" fill="#fba22e"/>
<rect x="269" y="185" width="5" height="4" fill="#f75e2c"/>
<rect x="274" y="185" width="9" height="4" fill="#f2ec36"/>
<rect x="283" y="185" width="5" height="4" fill="#fba22e"/>
<rect x="288" y="185" width="4" height="4" fill="#72dcbc"/>
<rect x="292" y="185" width="5" height="4" fill="#9ae264"/>
<rect x="297" y="185" width="9" height="4" fill="#60c0f4"/>
<rect x="306" y="185" width="5" height="4" fill="#72dcbc"/>
<rect x="311" y="185" width="50" height="4" fill="#60c0f4"/>
<rect x="361" y="185" width="5" height="4" fill="#4470d4"/>
<rect x="366" y="185" width="9" height="4" fill="#4f98e8"/>
<rect x="375" y="185" width="5" height="4" fill="#58aeee"/>
<rect x="380" y="185" width="5" height="4" fill="#4f98e8"/>
<rect x="385" y="185" width="4" height="4" fill="#4470d4"/>
<rect x="389" y="185" width="5" height="4" fill="#4f98e8"/>
<rect x="394" y="185" width="9" height="4" fill="#4470d4"/>
<rect x="403" y="185" width="14" height="4" fill="#4f98e8"/>
<rect x="417" y="185" width="4" height="4" fill="#4470d4"/>
<rect x="421" y="185" width="10" height="4" fill="#4f98e8"/>
<rect x="431" y="185" width="4" height="4" fill="#4470d4"/>
<rect x="435" y="185" width="5" height="4" fill="#4f98e8"/>
<rect x="440" y="185" width="4" height="4" fill="#58aeee"/>
<rect x="444" y="185" width="5" height="4" fill="#4470d4"/>
<rect x="449" y="185" width="9" height="4" fill="#58aeee"/>
<rect x="458" y="185" width="5" height="4" fill="#4470d4"/>
<rect x="463" y="185" width="23" height="4" fill="#58aeee"/>
<rect x="71" y="189" width="5" height="4" fill="#ec3328"/>
<rect x="76" y="189" width="5" height="4" fill="#b01c28"/>
<rect x="81" y="189" width="23" height="4" fill="#ec3328"/>
<rect x="104" y="189" width="13" height="4" fill="#b01c28"/>
<rect x="117" y="189" width="5" height="4" fill="#ec3328"/>
<rect x="122" y="189" width="5" height="4" fill="#f2ec36"/>
<rect x="127" y="189" width="23" height="4" fill="#fba22e"/>
<rect x="150" y="189" width="4" height="4" fill="#f75e2c"/>
<rect x="154" y="189" width="9" height="4" fill="#9ae264"/>
<rect x="163" y="189" width="10" height="4" fill="#f2ec36"/>
<rect x="173" y="189" width="4" height="4" fill="#9ae264"/>
<rect x="177" y="189" width="10" height="4" fill="#72dcbc"/>
<rect x="187" y="189" width="4" height="4" fill="#9ae264"/>
<rect x="191" y="189" width="5" height="4" fill="#f2ec36"/>
<rect x="196" y="189" width="4" height="4" fill="#4470d4"/>
<rect x="200" y="189" width="5" height="4" fill="#60c0f4"/>
<rect x="205" y="189" width="5" height="4" fill="#4f98e8"/>
<rect x="210" y="189" width="4" height="4" fill="#60c0f4"/>
<rect x="214" y="189" width="19" height="4" fill="#72dcbc"/>
<rect x="233" y="189" width="4" height="4" fill="#60c0f4"/>
<rect x="237" y="189" width="5" height="4" fill="#72dcbc"/>
<rect x="242" y="189" width="4" height="4" fill="#9ae264"/>
<rect x="246" y="189" width="5" height="4" fill="#f2ec36"/>
<rect x="251" y="189" width="5" height="4" fill="#f75e2c"/>
<rect x="256" y="189" width="4" height="4" fill="#ec3328"/>
<rect x="260" y="189" width="28" height="4" fill="#f2ec36"/>
<rect x="288" y="189" width="9" height="4" fill="#72dcbc"/>
<rect x="297" y="189" width="14" height="4" fill="#60c0f4"/>
<rect x="311" y="189" width="4" height="4" fill="#72dcbc"/>
<rect x="315" y="189" width="5" height="4" fill="#60c0f4"/>
<rect x="320" y="189" width="9" height="4" fill="#72dcbc"/>
<rect x="329" y="189" width="32" height="4" fill="#60c0f4"/>
<rect x="361" y="189" width="5" height="4" fill="#4166cc"/>
<rect x="366" y="189" width="5" height="4" fill="#4f98e8"/>
<rect x="371" y="189" width="9" height="4" fill="#58aeee"/>
<rect x="380" y="189" width="14" height="4" fill="#4f98e8"/>
<rect x="394" y="189" width="9" height="4" fill="#4166cc"/>
<rect x="403" y="189" width="23" height="4" fill="#4f98e8"/>
<rect x="426" y="189" width="14" height="4" fill="#4166cc"/>
<rect x="440" y="189" width="4" height="4" fill="#4f98e8"/>
<rect x="444" y="189" width="5" height="4" fill="#4166cc"/>
<rect x="449" y="189" width="5" height="4" fill="#58aeee"/>
<rect x="454" y="189" width="4" height="4" fill="#4f98e8"/>
<rect x="458" y="189" width="9" height="4" fill="#4166cc"/>
<rect x="467" y="189" width="5" height="4" fill="#4f98e8"/>
<rect x="472" y="189" width="5" height="4" fill="#4166cc"/>
<rect x="477" y="189" width="9" height="4" fill="#4f98e8"/>
<rect x="71" y="193" width="5" height="4" fill="#ec3328"/>
<rect x="76" y="193" width="5" height="4" fill="#b01c28"/>
<rect x="81" y="193" width="9" height="4" fill="#ec3328"/>
<rect x="90" y="193" width="9" height="4" fill="#f75e2c"/>
<rect x="99" y="193" width="5" height="4" fill="#fba22e"/>
<rect x="104" y="193" width="4" height="4" fill="#ec3328"/>
<rect x="108" y="193" width="5" height="4" fill="#b01c28"/>
<rect x="113" y="193" width="4" height="4" fill="#ec3328"/>
<rect x="117" y="193" width="5" height="4" fill="#b01c28"/>
<rect x="122" y="193" width="18" height="4" fill="#fba22e"/>
<rect x="140" y="193" width="5" height="4" fill="#f75e2c"/>
<rect x="145" y="193" width="5" height="4" fill="#fba22e"/>
<rect x="150" y="193" width="4" height="4" fill="#f75e2c"/>
<rect x="154" y="193" width="5" height="4" fill="#f2ec36"/>
<rect x="159" y="193" width="4" height="4" fill="#9ae264"/>
<rect x="163" y="193" width="5" height="4" fill="#f75e2c"/>
<rect x="168" y="193" width="5" height="4" fill="#f2ec36"/>
<rect x="173" y="193" width="4" height="4" fill="#9ae264"/>
<rect x="177" y="193" width="19" height="4" fill="#fba22e"/>
<rect x="196" y="193" width="14" height="4" fill="#60c0f4"/>
<rect x="210" y="193" width="23" height="4" fill="#9ae264"/>
<rect x="233" y="193" width="4" height="4" fill="#72dcbc"/>
<rect x="237" y="193" width="5" height="4" fill="#9ae264"/>
<rect x="242" y="193" width="4" height="4" fill="#fba22e"/>
<rect x="246" y="193" width="5" height="4" fill="#f2ec36"/>
<rect x="251" y="193" width="5" height="4" fill="#fba22e"/>
<rect x="256" y="193" width="4" height="4" fill="#f75e2c"/>
<rect x="260" y="193" width="5" height="4" fill="#f2ec36"/>
<rect x="265" y="193" width="14" height="4" fill="#9ae264"/>
<rect x="279" y="193" width="9" height="4" fill="#f2ec36"/>
<rect x="288" y="193" width="4" height="4" fill="#72dcbc"/>
<rect x="292" y="193" width="5" height="4" fill="#9ae264"/>
<rect x="297" y="193" width="5" height="4" fill="#60c0f4"/>
<rect x="302" y="193" width="4" height="4" fill="#4f98e8"/>
<rect x="306" y="193" width="5" height="4" fill="#60c0f4"/>
<rect x="311" y="193" width="4" height="4" fill="#72dcbc"/>
<rect x="315" y="193" width="5" height="4" fill="#60c0f4"/>
<rect x="320" y="193" width="9" height="4" fill="#72dcbc"/>
<rect x="329" y="193" width="14" height="4" fill="#60c0f4"/>
<rect x="343" y="193" width="5" height="4" fill="#4f98e8"/>
<rect x="348" y="193" width="4" height="4" fill="#60c0f4"/>
<rect x="352" y="193" width="5" height="4" fill="#4f98e8"/>
<rect x="357" y="193" width="4" height="4" fill="#60c0f4"/>
<rect x="361" y="193" width="42" height="4" fill="#4166cc"/>
<rect x="403" y="193" width="14" height="4" fill="#4f98e8"/>
<rect x="417" y="193" width="27" height="4" fill="#4166cc"/>
<rect x="444" y="193" width="10" height="4" fill="#58aeee"/>
<rect x="454" y="193" width="32" height="4" fill="#4166cc"/>
<rect x="71" y="197" width="19" height="5" fill="#ec3328"/>
<rect x="90" y="197" width="4" height="5" fill="#f75e2c"/>
<rect x="94" y="197" width="5" height="5" fill="#f2ec36"/>
<rect x="99" y="197" width="5" height="5" fill="#fba22e"/>
<rect x="104" y="197" width="13" height="5" fill="#ec3328"/>
<rect x="117" y="197" width="5" height="5" fill="#f75e2c"/>
<rect x="122" y="197" width="5" height="5" fill="#b01c28"/>
<rect x="127" y="197" width="4" height="5" fill="#f75e2c"/>
<rect x="131" y="197" width="14" height="5" fill="#fba22e"/>
<rect x="145" y="197" width="5" height="5" fill="#f2ec36"/>
<rect x="150" y="197" width="4" height="5" fill="#f75e2c"/>
<rect x="154" y="197" width="5" height="5" fill="#f2ec36"/>
<rect x="159" y="197" width="4" height="5" fill="#9ae264"/>
<rect x="163" y="197" width="5" height="5" fill="#f75e2c"/>
<rect x="168" y="197" width="5" height="5" fill="#f2ec36"/>
<rect x="173" y="197" width="4" height="5" fill="#9ae264"/>
<rect x="177" y="197" width="5" height="5" fill="#f2ec36"/>
<rect x="182" y="197" width="5" height="5" fill="#fba22e"/>
<rect x="187" y="197" width="4" height="5" fill="#f2ec36"/>
<rect x="191" y="197" width="5" height="5" fill="#f75e2c"/>
<rect x="196" y="197" width="14" height="5" fill="#60c0f4"/>
<rect x="210" y="197" width="13" height="5" fill="#9ae264"/>
<rect x="223" y="197" width="5" height="5" fill="#72dcbc"/>
<rect x="228" y="197" width="14" height="5" fill="#9ae264"/>
<rect x="242" y="197" width="9" height="5" fill="#f2ec36"/>
<rect x="251" y="197" width="9" height="5" fill="#fba22e"/>
<rect x="260" y="197" width="5" height="5" fill="#f2ec36"/>
<rect x="265" y="197" width="14" height="5" fill="#9ae264"/>
<rect x="279" y="197" width="4" height="5" fill="#f2ec36"/>
<rect x="283" y="197" width="5" height="5" fill="#f75e2c"/>
<rect x="288" y="197" width="4" height="5" fill="#72dcbc"/>
<rect x="292" y="197" width="5" height="5" fill="#9ae264"/>
<rect x="297" y="197" width="5" height="5" fill="#60c0f4"/>
<rect x="302" y="197" width="4" height="5" fill="#4f98e8"/>
<rect x="306" y="197" width="5" height="5" fill="#60c0f4"/>
<rect x="311" y="197" width="4" height="5" fill="#72dcbc"/>
<rect x="315" y="197" width="28" height="5" fill="#60c0f4"/>
<rect x="343" y="197" width="9" height="5" fill="#4f98e8"/>
<rect x="352" y="197" width="9" height="5" fill="#60c0f4"/>
<rect x="361" y="197" width="47" height="5" fill="#4166cc"/>
<rect x="408" y="197" width="4" height="5" fill="#4f98e8"/>
<rect x="412" y="197" width="32" height="5" fill="#4166cc"/>
<rect x="444" y="197" width="10" height="5" fill="#4f98e8"/>
<rect x="454" y="197" width="9" height="5" fill="#4166cc"/>
<rect x="463" y="197" width="4" height="5" fill="#4f98e8"/>
<rect x="467" y="197" width="19" height="5" fill="#4166cc"/>
</g>
<rect x="71.2" y="88.2" width="414.7" height="113.3" fill="none" stroke="#20202a" stroke-width="0.9" opacity="0.85"/>
<g font-size="4" fill="#111" stroke="#111" stroke-width="0.2" text-rendering="geometricPrecision" transform="translate(491.9,0) rotate(0.03) scale(1.24,1)">
<text x="0" y="91.94">miR-663b</text>
<text x="0" y="96.13">miR-296-5p</text>
<text x="0" y="100.32">miR-711</text>
<text x="0" y="104.51">miR-184</text>
<text x="0" y="108.70">miR-29*</text>
<text x="0" y="112.89">miR-1285</text>
<text x="0" y="117.08">miR-665</text>
<text x="0" y="121.27">miR-877</text>
<text x="0" y="125.46">miR-34b</text>
<text x="0" y="129.64">miR-583</text>
<text x="0" y="133.83">miR-514a-5p</text>
<text x="0" y="138.02">miR-300</text>
<text x="0" y="142.21">miR-3202</text>
<text x="0" y="146.40">miR-518b</text>
<text x="0" y="150.59">miR-326</text>
<text x="0" y="154.78">miR-1469</text>
<text x="0" y="158.97">miR-1973</text>
<text x="0" y="163.16">miR-634</text>
<text x="0" y="167.34">miR-203</text>
<text x="0" y="171.53">miR-205</text>
<text x="0" y="175.72">let-7b</text>
<text x="0" y="179.91">miR-24</text>
<text x="0" y="184.10">miR-718</text>
<text x="0" y="188.29">miR-1281</text>
<text x="0" y="192.48">miR-30c-1*</text>
<text x="0" y="196.67">miR-1249</text>
<text x="0" y="200.86">miR-1207-3p</text>
</g>
<text x="71.8" y="220.2" font-size="7.85" font-weight="bold" fill="#111">Relative expression (Z-score)</text>
<rect x="71.3" y="227.1" width="108.9" height="14.1" fill="url(#cb)" stroke="#1a1a2a" stroke-width="0.9"/>
<g stroke="#222" stroke-width="0.8">
<line x1="75.2" y1="241" x2="75.2" y2="244.8"/>
<line x1="100.3" y1="241" x2="100.3" y2="244.8"/>
<line x1="125.5" y1="241" x2="125.5" y2="244.8"/>
<line x1="150.7" y1="241" x2="150.7" y2="244.8"/>
<line x1="175.9" y1="241" x2="175.9" y2="244.8"/>
</g><g font-size="7.2" fill="#222" text-anchor="middle">
<text x="73.8" y="253.3">−2</text>
<text x="98.9" y="253.3">−1</text>
<text x="125.5" y="253.3">0</text>
<text x="150.7" y="253.3">1</text>
<text x="175.9" y="253.3">2</text>
</g>
<path d="M224.6 2.2L321.6 2.2M224.6 2.2L224.6 35.8M321.6 2.2L321.6 17.5M189.0 35.8L257.0 35.8M189.0 35.8L189.0 43.6M257.0 35.8L257.0 55.5M173.7 43.6L204.0 43.6M173.7 43.6L173.7 54.1M204.0 43.6L204.0 54.4M200.3 54.4L207.2 54.4M207.2 54.4L207.2 70.6M200.3 54.4L200.3 68.0M198.0 68.0L198.0 70.6M202.6 68.0L202.6 70.6M198.0 68.0L202.6 68.0M156.9 54.1L189.9 54.1M156.9 54.1L156.9 57.5M189.9 54.1L189.9 64.2M184.2 64.2L193.4 64.2M184.2 64.2L184.2 70.6M188.8 64.2L188.8 70.6M193.4 64.2L193.4 70.6M141.4 57.5L175.0 57.5M141.4 57.5L141.4 61.6M156.6 57.5L156.6 70.6M167.0 57.5L167.0 60.2M163.5 60.2L177.3 60.2M163.5 60.2L163.5 64.2M161.2 64.2L161.2 70.6M165.8 64.2L165.8 70.6M161.2 64.2L165.8 64.2M170.4 60.2L170.4 70.6M177.3 60.2L177.3 62.0M175.0 62.0L175.0 70.6M179.6 62.0L179.6 70.6M175.0 62.0L179.6 62.0M125.6 61.6L149.7 61.6M129.0 66.9L129.0 70.6M133.6 66.9L133.6 70.6M129.0 66.9L133.6 66.9M131.3 61.6L131.3 66.9M138.2 65.5L138.2 70.6M142.8 65.5L142.8 70.6M138.2 65.5L142.8 65.5M140.5 61.6L140.5 65.5M147.4 65.5L147.4 70.6M152.0 65.5L152.0 70.6M147.4 65.5L152.0 65.5M149.7 61.6L149.7 65.5M128.0 61.6L128.0 63.6M109.0 63.6L128.0 63.6M109.0 63.6L109.0 65.6M96.7 65.6L109.0 65.6M101.3 65.6L101.3 70.6M73.7 70.2L73.7 70.6M78.3 69.3L78.3 70.6M82.9 68.4L82.9 70.6M87.5 67.4L87.5 70.6M92.1 66.5L92.1 70.6M96.7 65.6L96.7 70.6M105.9 70.0L105.9 70.6M110.5 68.8L110.5 70.6M115.1 67.6L115.1 70.6M119.7 66.4L119.7 70.6M119.7 63.6L119.7 66.4M124.4 63.6L124.4 70.6M211.8 68.8L211.8 70.6M216.4 67.7L216.4 70.6M221.0 66.6L221.0 70.6M225.6 65.5L225.6 70.6M230.3 64.5L230.3 70.6M234.9 63.4L234.9 70.6M239.5 62.3L239.5 70.6M239.5 60.6L239.5 62.3M239.5 60.6L248.7 60.6M244.1 60.6L244.1 70.6M248.7 60.6L248.7 70.6M245.0 55.5L245.0 60.6M245.0 55.5L271.0 55.5M271.0 55.5L271.0 58.8M262.0 58.8L279.0 58.8M262.0 58.8L262.0 63.2M255.5 63.2L267.1 63.2M253.3 66.5L253.3 70.6M257.9 66.5L257.9 70.6M253.3 66.5L257.9 66.5M255.6 63.2L255.6 66.5M262.5 63.2L262.5 70.6M267.1 63.2L267.1 70.6M279.0 58.8L279.0 63.2M273.9 63.2L283.1 63.2M271.7 66.5L271.7 70.6M276.3 66.5L276.3 70.6M271.7 66.5L276.3 66.5M274.0 63.2L274.0 66.5M280.9 66.5L280.9 70.6M285.5 66.5L285.5 70.6M280.9 66.5L285.5 66.5M283.2 63.2L283.2 66.5M298.9 17.5L344.4 17.5M298.9 17.5L298.9 70.6M292.3 29.5L312.5 29.5M292.3 29.5L292.3 40.6M290.1 40.6L290.1 70.6M294.7 40.6L294.7 70.6M290.1 40.6L294.7 40.6M312.5 29.5L312.5 51.5M306.2 51.5L316.4 51.5M306.2 51.5L306.2 64.5M303.9 64.5L303.9 70.6M308.5 64.5L308.5 70.6M303.9 64.5L308.5 64.5M316.4 51.5L316.4 56.2M313.1 56.2L320.3 56.2M313.1 56.2L313.1 70.6M320.3 56.2L320.3 60.6M317.7 60.6L324.6 60.6M317.7 60.6L317.7 70.6M322.3 64.5L322.3 70.6M326.9 64.5L326.9 70.6M322.3 64.5L326.9 64.5M324.6 60.6L324.6 64.5M344.4 17.5L344.4 57.0M333.8 57.0L356.4 57.0M331.6 66.2L331.6 70.6M336.2 66.2L336.2 70.6M331.6 66.2L336.2 66.2M333.9 57.0L333.9 66.2M356.4 57.0L356.4 62.2M343.8 62.2L369.3 62.2M343.8 62.2L343.8 64.6M340.8 64.6L347.6 64.6M340.8 64.6L340.8 70.6M345.4 66.2L345.4 70.6M350.0 66.2L350.0 70.6M345.4 66.2L350.0 66.2M347.7 64.6L347.7 66.2M369.3 62.2L369.3 65.8M354.6 66.6L354.6 70.6M359.2 66.4L359.2 70.6M363.8 66.2L363.8 70.6M368.4 66.0L368.4 70.6M373.0 66.3L373.0 70.6M377.6 66.7L377.6 70.6M382.2 67.1L382.2 70.6M386.8 67.4L386.8 70.6M391.4 67.8L391.4 70.6M396.0 68.2L396.0 70.6M400.6 68.5L400.6 70.6M405.2 68.6L405.2 70.6M409.8 68.7L409.8 70.6M414.4 68.8L414.4 70.6M419.0 68.9L419.0 70.6M423.6 69.0L423.6 70.6M428.2 69.1L428.2 70.6M432.8 69.2L432.8 70.6M437.5 69.3L437.5 70.6M442.1 69.4L442.1 70.6M446.7 69.5L446.7 70.6M451.3 69.6L451.3 70.6M455.9 69.7L455.9 70.6M460.5 69.7L460.5 70.6M465.1 69.8L465.1 70.6M469.7 69.9L469.7 70.6M474.3 70.0L474.3 70.6M478.9 70.0L478.9 70.6M483.5 70.1L483.5 70.6M2.0 121.8L50.7 121.8M2.0 121.8L2.0 178.1M2.0 178.1L10.3 178.1M50.7 92.2L50.7 152.3M50.7 92.2L56.5 92.2M56.5 90.5L56.5 94.7M56.5 90.5L65.2 90.5M56.5 94.7L65.2 94.7M50.7 152.3L54.7 152.3M54.7 134.0L54.7 159.2M54.7 159.2L57.3 159.2M57.3 157.5L57.3 161.7M57.3 157.5L65.2 157.5M57.3 161.7L65.2 161.7M54.7 134.0L59.0 134.0M59.0 134.0L59.0 149.1M54.7 153.3L65.2 153.3M64.0 98.9L65.2 98.9M63.6 103.1L65.2 103.1M63.2 107.2L65.2 107.2M62.8 111.4L65.2 111.4M62.0 115.6L65.2 115.6M61.3 119.8L65.2 119.8M60.5 124.0L65.2 124.0M59.9 128.2L65.2 128.2M59.2 132.4L65.2 132.4M59.0 136.6L65.2 136.6M59.0 140.8L65.2 140.8M59.0 145.0L65.2 145.0M59.0 149.1L65.2 149.1M10.3 169.3L10.3 186.4M10.3 169.3L40.3 169.3M40.3 165.9L40.3 173.7M40.3 165.9L65.2 165.9M40.3 173.7L57.4 173.7M57.4 170.1L57.4 176.0M57.4 170.1L65.2 170.1M57.4 176.0L59.5 176.0M59.5 174.3L59.5 178.5M59.5 174.3L65.2 174.3M59.5 178.5L65.2 178.5M10.3 186.4L53.2 186.4M53.2 182.7L53.2 192.0M53.2 182.7L65.2 182.7M53.2 186.8L65.2 186.8M53.2 192.0L57.0 192.0M57.0 191.0L57.0 196.9M57.0 191.0L65.2 191.0M57.0 196.9L60.0 196.9M60.0 195.2L60.0 199.4M60.0 195.2L65.2 195.2M60.0 199.4L65.2 199.4" fill="none" stroke="#141414" stroke-width="0.95" stroke-linecap="square"/>
<polyline points="73.7,70.2 96.7,65.6" fill="none" stroke="#141414" stroke-width="1.4"/>
<polyline points="105.9,70.0 119.7,66.4" fill="none" stroke="#141414" stroke-width="1.4"/>
<polyline points="211.8,68.8 239.5,62.3" fill="none" stroke="#141414" stroke-width="1.3"/>
<polyline points="354.6,66.6 369.3,66.0 385.0,67.3 400.0,68.5 440.0,69.4 483.5,70.1" fill="none" stroke="#141414" stroke-width="1.9"/>
<polyline points="63.6,98.9 62.0,111.4 60.2,124.0 59.0,134.0" fill="none" stroke="#141414" stroke-width="2.2"/>
<circle cx="363" cy="227.3" r="0.6" fill="#aaa"/><circle cx="420.4" cy="231.5" r="0.6" fill="#aaa"/>
</svg></body></html>
